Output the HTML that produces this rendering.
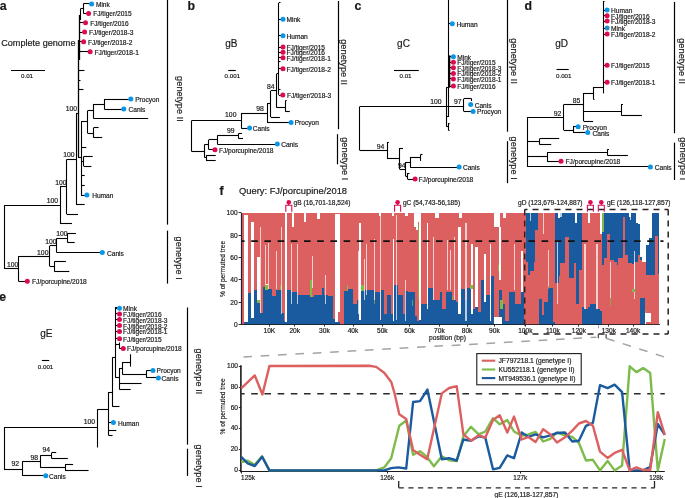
<!DOCTYPE html>
<html><head><meta charset="utf-8"><style>
html,body{margin:0;padding:0;background:#fff;}
body{width:685px;height:498px;overflow:hidden;}
svg{display:block;font-family:"Liberation Sans", sans-serif;-webkit-font-smoothing:antialiased;will-change:transform;}
</style></head><body>
<svg width="685" height="498" viewBox="0 0 685 498">
<rect width="685" height="498" fill="#fff"/>
<text x="-0.3" y="9.7" font-size="12.3" font-weight="bold" fill="#1a1718" stroke="#1a1718" stroke-width="0.18">a</text>
<text x="1.2" y="46.2" font-size="9.1" fill="#1a1718" stroke="#1a1718" stroke-width="0.18">Complete genome</text>
<line x1="11" y1="70.5" x2="45" y2="70.5" stroke="#000000" stroke-width="1.1"/>
<text x="21" y="78.3" font-size="6.2" fill="#1a1718" stroke="#1a1718" stroke-width="0.18">0.01</text>
<line x1="83.5" y1="3.9" x2="83.5" y2="13.3" stroke="#000000" stroke-width="1.1"/>
<line x1="83.3" y1="3.5" x2="89.6" y2="3.5" stroke="#000000" stroke-width="1.1"/>
<circle cx="91.6" cy="3.9" r="2.5" fill="#0a96e6"/>
<text x="95.9" y="6.88" font-size="6.6" fill="#1a1718" stroke="#1a1718" stroke-width="0.18">Mink</text>
<line x1="83.3" y1="13.5" x2="86.6" y2="13.5" stroke="#000000" stroke-width="1.1"/>
<circle cx="88.6" cy="13.5" r="2.5" fill="#dc0a55"/>
<text x="93.2" y="16.48" font-size="6.6" fill="#1a1718" stroke="#1a1718" stroke-width="0.18">FJ/tiger/2015</text>
<line x1="80.5" y1="8.5" x2="83.3" y2="8.5" stroke="#000000" stroke-width="1.1"/>
<line x1="80.5" y1="8.7" x2="80.5" y2="20" stroke="#000000" stroke-width="1.1"/>
<line x1="79.5" y1="15" x2="79.5" y2="60" stroke="#000000" stroke-width="1.3"/>
<line x1="79.5" y1="22.5" x2="83.5" y2="22.5" stroke="#000000" stroke-width="1.1"/>
<circle cx="85.5" cy="22.8" r="2.5" fill="#dc0a55"/>
<text x="90.2" y="25.78" font-size="6.6" fill="#1a1718" stroke="#1a1718" stroke-width="0.18">FJ/tiger/2016</text>
<line x1="79.5" y1="32.5" x2="82.6" y2="32.5" stroke="#000000" stroke-width="1.1"/>
<circle cx="84.6" cy="32" r="2.5" fill="#dc0a55"/>
<text x="89.0" y="34.98" font-size="6.6" fill="#1a1718" stroke="#1a1718" stroke-width="0.18">FJ/tiger/2018-3</text>
<line x1="79.5" y1="41.5" x2="81.6" y2="41.5" stroke="#000000" stroke-width="1.1"/>
<circle cx="83.6" cy="41.7" r="2.5" fill="#dc0a55"/>
<text x="88.0" y="44.68" font-size="6.6" fill="#1a1718" stroke="#1a1718" stroke-width="0.18">FJ/tiger/2018-2</text>
<line x1="78.5" y1="51.5" x2="88.1" y2="51.5" stroke="#000000" stroke-width="1.1"/>
<circle cx="90.1" cy="51.8" r="2.5" fill="#dc0a55"/>
<text x="94.5" y="54.78" font-size="6.6" fill="#1a1718" stroke="#1a1718" stroke-width="0.18">FJ/tiger/2018-1</text>
<line x1="78.5" y1="40" x2="78.5" y2="157.2" stroke="#000000" stroke-width="1.3"/>
<line x1="78" y1="70.5" x2="84.5" y2="70.5" stroke="#000000" stroke-width="1.1"/>
<line x1="78" y1="80.5" x2="80.5" y2="80.5" stroke="#000000" stroke-width="1.1"/>
<line x1="78" y1="89.5" x2="83.5" y2="89.5" stroke="#000000" stroke-width="1.1"/>
<line x1="76" y1="113.5" x2="78.2" y2="113.5" stroke="#000000" stroke-width="1.1"/>
<line x1="76.5" y1="113.5" x2="76.5" y2="204.3" stroke="#000000" stroke-width="1.1"/>
<text x="65.7" y="111" font-size="6.8" fill="#1a1718" stroke="#1a1718" stroke-width="0.18">100</text>
<line x1="78" y1="157.5" x2="81" y2="157.5" stroke="#000000" stroke-width="1.1"/>
<line x1="81.5" y1="121.7" x2="81.5" y2="195.1" stroke="#000000" stroke-width="1.1"/>
<line x1="81" y1="121.5" x2="87.6" y2="121.5" stroke="#000000" stroke-width="1.1"/>
<line x1="87.5" y1="110.7" x2="87.5" y2="133.2" stroke="#000000" stroke-width="1.1"/>
<line x1="87.6" y1="110.5" x2="93.2" y2="110.5" stroke="#000000" stroke-width="1.1"/>
<line x1="93.5" y1="104" x2="93.5" y2="118" stroke="#000000" stroke-width="1.1"/>
<line x1="93.2" y1="104.5" x2="104.3" y2="104.5" stroke="#000000" stroke-width="1.1"/>
<line x1="104.5" y1="99" x2="104.5" y2="109" stroke="#000000" stroke-width="1.1"/>
<line x1="104.3" y1="99.5" x2="128.8" y2="99.5" stroke="#000000" stroke-width="1.1"/>
<circle cx="130.8" cy="99" r="2.5" fill="#0a96e6"/>
<text x="135.2" y="101.98" font-size="6.6" fill="#1a1718" stroke="#1a1718" stroke-width="0.18">Procyon</text>
<line x1="104.3" y1="109.5" x2="121.8" y2="109.5" stroke="#000000" stroke-width="1.1"/>
<circle cx="123.8" cy="109" r="2.5" fill="#0a96e6"/>
<text x="128.5" y="111.98" font-size="6.6" fill="#1a1718" stroke="#1a1718" stroke-width="0.18">Canis</text>
<line x1="93.2" y1="118.5" x2="148.2" y2="118.5" stroke="#000000" stroke-width="1.1"/>
<line x1="87.6" y1="133.5" x2="93.6" y2="133.5" stroke="#000000" stroke-width="1.1"/>
<line x1="93.5" y1="127.8" x2="93.5" y2="137.8" stroke="#000000" stroke-width="1.1"/>
<line x1="93.6" y1="127.5" x2="98.6" y2="127.5" stroke="#000000" stroke-width="1.1"/>
<line x1="93.6" y1="137.5" x2="102.2" y2="137.5" stroke="#000000" stroke-width="1.1"/>
<line x1="81" y1="147.5" x2="86.3" y2="147.5" stroke="#000000" stroke-width="1.1"/>
<line x1="81" y1="161.5" x2="83.7" y2="161.5" stroke="#000000" stroke-width="1.1"/>
<line x1="83.5" y1="156.5" x2="83.5" y2="166.2" stroke="#000000" stroke-width="1.1"/>
<line x1="83.7" y1="156.5" x2="92.7" y2="156.5" stroke="#000000" stroke-width="1.1"/>
<line x1="83.7" y1="166.5" x2="91.4" y2="166.5" stroke="#000000" stroke-width="1.1"/>
<line x1="81" y1="175.5" x2="84.7" y2="175.5" stroke="#000000" stroke-width="1.1"/>
<line x1="81" y1="185.5" x2="84.7" y2="185.5" stroke="#000000" stroke-width="1.1"/>
<line x1="81" y1="195.5" x2="84.9" y2="195.5" stroke="#000000" stroke-width="1.1"/>
<circle cx="86.9" cy="195.1" r="2.5" fill="#0a96e6"/>
<text x="92.2" y="198.08" font-size="6.6" fill="#1a1718" stroke="#1a1718" stroke-width="0.18">Human</text>
<line x1="66.8" y1="159.5" x2="76" y2="159.5" stroke="#000000" stroke-width="1.1"/>
<line x1="66.5" y1="159.3" x2="66.5" y2="214.2" stroke="#000000" stroke-width="1.1"/>
<text x="63.3" y="156.9" font-size="6.8" fill="#1a1718" stroke="#1a1718" stroke-width="0.18">100</text>
<line x1="76" y1="204.5" x2="84.7" y2="204.5" stroke="#000000" stroke-width="1.1"/>
<line x1="66.8" y1="214.5" x2="78" y2="214.5" stroke="#000000" stroke-width="1.1"/>
<line x1="60" y1="186.5" x2="66.8" y2="186.5" stroke="#000000" stroke-width="1.1"/>
<line x1="60.5" y1="186.6" x2="60.5" y2="223.7" stroke="#000000" stroke-width="1.1"/>
<text x="55.3" y="185" font-size="6.8" fill="#1a1718" stroke="#1a1718" stroke-width="0.18">100</text>
<line x1="60" y1="223.5" x2="72" y2="223.5" stroke="#000000" stroke-width="1.1"/>
<line x1="4.4" y1="205.5" x2="60" y2="205.5" stroke="#000000" stroke-width="1.1"/>
<text x="46.7" y="203" font-size="6.8" fill="#1a1718" stroke="#1a1718" stroke-width="0.18">100</text>
<line x1="4.5" y1="205.2" x2="4.5" y2="268.9" stroke="#000000" stroke-width="1.1"/>
<line x1="4.4" y1="268.5" x2="18.5" y2="268.5" stroke="#000000" stroke-width="1.1"/>
<text x="7" y="266.7" font-size="6.8" fill="#1a1718" stroke="#1a1718" stroke-width="0.18">100</text>
<line x1="18.5" y1="256.2" x2="18.5" y2="281.3" stroke="#000000" stroke-width="1.1"/>
<line x1="18.5" y1="281.5" x2="25.3" y2="281.5" stroke="#000000" stroke-width="1.1"/>
<circle cx="27.3" cy="281.3" r="2.5" fill="#dc0a55"/>
<text x="32.1" y="284.28" font-size="6.6" fill="#1a1718" stroke="#1a1718" stroke-width="0.18">FJ/porcupine/2018</text>
<line x1="18.5" y1="256.5" x2="49.8" y2="256.5" stroke="#000000" stroke-width="1.1"/>
<text x="37.1" y="254.6" font-size="6.8" fill="#1a1718" stroke="#1a1718" stroke-width="0.18">100</text>
<line x1="49.5" y1="245.8" x2="49.5" y2="266.3" stroke="#000000" stroke-width="1.1"/>
<line x1="49.8" y1="245.5" x2="56.8" y2="245.5" stroke="#000000" stroke-width="1.1"/>
<text x="45.2" y="244.2" font-size="6.8" fill="#1a1718" stroke="#1a1718" stroke-width="0.18">100</text>
<line x1="56.5" y1="238.2" x2="56.5" y2="252.6" stroke="#000000" stroke-width="1.1"/>
<line x1="56.8" y1="252.5" x2="100.3" y2="252.5" stroke="#000000" stroke-width="1.1"/>
<circle cx="102.3" cy="252.6" r="2.5" fill="#0a96e6"/>
<text x="107" y="255.58" font-size="6.6" fill="#1a1718" stroke="#1a1718" stroke-width="0.18">Canis</text>
<line x1="56.8" y1="238.5" x2="67.9" y2="238.5" stroke="#000000" stroke-width="1.1"/>
<text x="56.2" y="236" font-size="6.8" fill="#1a1718" stroke="#1a1718" stroke-width="0.18">100</text>
<line x1="67.5" y1="233.1" x2="67.5" y2="242.8" stroke="#000000" stroke-width="1.1"/>
<line x1="67.9" y1="233.5" x2="75.9" y2="233.5" stroke="#000000" stroke-width="1.1"/>
<line x1="67.9" y1="242.5" x2="74.7" y2="242.5" stroke="#000000" stroke-width="1.1"/>
<line x1="49.8" y1="266.5" x2="54.2" y2="266.5" stroke="#000000" stroke-width="1.1"/>
<line x1="54.5" y1="261.8" x2="54.5" y2="271.3" stroke="#000000" stroke-width="1.1"/>
<line x1="54.2" y1="261.5" x2="65.9" y2="261.5" stroke="#000000" stroke-width="1.1"/>
<line x1="54.2" y1="271.5" x2="69.3" y2="271.5" stroke="#000000" stroke-width="1.1"/>
<line x1="167.5" y1="0" x2="167.5" y2="224.6" stroke="#000000" stroke-width="1.2"/>
<line x1="167.5" y1="230.6" x2="167.5" y2="283.6" stroke="#000000" stroke-width="1.2"/>
<text transform="translate(176.6,76.1) rotate(90)" font-size="9.25" fill="#1a1718" stroke="#1a1718" stroke-width="0.18">genetype II</text>
<text transform="translate(175.8,236.6) rotate(90)" font-size="9.25" fill="#1a1718" stroke="#1a1718" stroke-width="0.18">genetype I</text>
<text x="187.6" y="9.7" font-size="12.3" font-weight="bold" fill="#1a1718" stroke="#1a1718" stroke-width="0.18">b</text>
<text x="225.2" y="46.8" font-size="10" fill="#1a1718" stroke="#1a1718" stroke-width="0.18">gB</text>
<line x1="228.2" y1="70.5" x2="235.8" y2="70.5" stroke="#000000" stroke-width="1.1"/>
<text x="224.6" y="78.3" font-size="6.2" fill="#1a1718" stroke="#1a1718" stroke-width="0.18">0.001</text>
<line x1="278.5" y1="2.9" x2="278.5" y2="94.8" stroke="#000000" stroke-width="1.1"/>
<line x1="278.8" y1="2.5" x2="280.5" y2="2.5" stroke="#000000" stroke-width="1.1"/>
<line x1="278.8" y1="19.5" x2="281" y2="19.5" stroke="#000000" stroke-width="1.1"/>
<circle cx="283" cy="19.3" r="2.5" fill="#0a96e6"/>
<text x="286.5" y="22.28" font-size="6.6" fill="#1a1718" stroke="#1a1718" stroke-width="0.18">Mink</text>
<line x1="278.8" y1="35.5" x2="281" y2="35.5" stroke="#000000" stroke-width="1.1"/>
<circle cx="283" cy="35.7" r="2.5" fill="#0a96e6"/>
<text x="286.5" y="38.68" font-size="6.6" fill="#1a1718" stroke="#1a1718" stroke-width="0.18">Human</text>
<line x1="278.8" y1="47.5" x2="281" y2="47.5" stroke="#000000" stroke-width="1.1"/>
<circle cx="283" cy="47.1" r="2.5" fill="#dc0a55"/>
<text x="286.5" y="50.08" font-size="6.6" fill="#1a1718" stroke="#1a1718" stroke-width="0.18">FJ/tiger/2015</text>
<line x1="278.8" y1="52.5" x2="281" y2="52.5" stroke="#000000" stroke-width="1.1"/>
<circle cx="283" cy="52.2" r="2.5" fill="#dc0a55"/>
<text x="286.5" y="55.18" font-size="6.6" fill="#1a1718" stroke="#1a1718" stroke-width="0.18">FJ/tiger/2016</text>
<line x1="278.8" y1="57.5" x2="281" y2="57.5" stroke="#000000" stroke-width="1.1"/>
<circle cx="283" cy="57.8" r="2.5" fill="#dc0a55"/>
<text x="286.5" y="60.78" font-size="6.6" fill="#1a1718" stroke="#1a1718" stroke-width="0.18">FJ/tiger/2018-1</text>
<line x1="278.8" y1="68.5" x2="281" y2="68.5" stroke="#000000" stroke-width="1.1"/>
<circle cx="283" cy="68.8" r="2.5" fill="#dc0a55"/>
<text x="286.5" y="71.78" font-size="6.6" fill="#1a1718" stroke="#1a1718" stroke-width="0.18">FJ/tiger/2018-2</text>
<line x1="278.8" y1="61.5" x2="280.5" y2="61.5" stroke="#000000" stroke-width="1.1"/>
<line x1="276.6" y1="73.5" x2="278.8" y2="73.5" stroke="#000000" stroke-width="1.1"/>
<line x1="278.8" y1="89.5" x2="280.5" y2="89.5" stroke="#000000" stroke-width="1.1"/>
<line x1="278.8" y1="95.5" x2="280.8" y2="95.5" stroke="#000000" stroke-width="1.1"/>
<circle cx="282.8" cy="95.1" r="2.5" fill="#dc0a55"/>
<text x="286.9" y="98.08" font-size="6.6" fill="#1a1718" stroke="#1a1718" stroke-width="0.18">FJ/tiger/2018-3</text>
<line x1="276.5" y1="73.9" x2="276.5" y2="107.7" stroke="#000000" stroke-width="1.1"/>
<line x1="270.8" y1="90.5" x2="276.6" y2="90.5" stroke="#000000" stroke-width="1.1"/>
<line x1="270.5" y1="90.9" x2="270.5" y2="117" stroke="#000000" stroke-width="1.1"/>
<text x="267" y="88.7" font-size="6.8" fill="#1a1718" stroke="#1a1718" stroke-width="0.18">84</text>
<line x1="276.6" y1="107.5" x2="285.4" y2="107.5" stroke="#000000" stroke-width="1.1"/>
<line x1="285.5" y1="100.7" x2="285.5" y2="111.6" stroke="#000000" stroke-width="1.1"/>
<line x1="285.4" y1="100.5" x2="286.8" y2="100.5" stroke="#000000" stroke-width="1.1"/>
<line x1="285.4" y1="111.5" x2="289.8" y2="111.5" stroke="#000000" stroke-width="1.1"/>
<line x1="270.8" y1="117.5" x2="279.9" y2="117.5" stroke="#000000" stroke-width="1.1"/>
<line x1="267" y1="103.5" x2="270.8" y2="103.5" stroke="#000000" stroke-width="1.1"/>
<line x1="267.5" y1="103.9" x2="267.5" y2="122.3" stroke="#000000" stroke-width="1.1"/>
<text x="256.2" y="110.6" font-size="6.8" fill="#1a1718" stroke="#1a1718" stroke-width="0.18">98</text>
<line x1="267" y1="122.5" x2="289.1" y2="122.5" stroke="#000000" stroke-width="1.1"/>
<circle cx="291.1" cy="122.5" r="2.5" fill="#0a96e6"/>
<text x="294.7" y="125.48" font-size="6.6" fill="#1a1718" stroke="#1a1718" stroke-width="0.18">Procyon</text>
<line x1="241.2" y1="113.5" x2="267" y2="113.5" stroke="#000000" stroke-width="1.1"/>
<line x1="241.5" y1="113.1" x2="241.5" y2="128" stroke="#000000" stroke-width="1.1"/>
<line x1="241.2" y1="128.5" x2="247.6" y2="128.5" stroke="#000000" stroke-width="1.1"/>
<circle cx="249.6" cy="128.1" r="2.5" fill="#0a96e6"/>
<text x="252.8" y="131.08" font-size="6.6" fill="#1a1718" stroke="#1a1718" stroke-width="0.18">Canis</text>
<text x="225.1" y="116.7" font-size="6.8" fill="#1a1718" stroke="#1a1718" stroke-width="0.18">100</text>
<line x1="191.6" y1="120.5" x2="241.2" y2="120.5" stroke="#000000" stroke-width="1.1"/>
<line x1="191.5" y1="120.6" x2="191.5" y2="151.5" stroke="#000000" stroke-width="1.1"/>
<text x="227" y="132.8" font-size="6.8" fill="#1a1718" stroke="#1a1718" stroke-width="0.18">99</text>
<line x1="217.3" y1="135.5" x2="238.5" y2="135.5" stroke="#000000" stroke-width="1.1"/>
<line x1="238.5" y1="133.3" x2="238.5" y2="138.6" stroke="#000000" stroke-width="1.1"/>
<line x1="238.5" y1="133.5" x2="241.9" y2="133.5" stroke="#000000" stroke-width="1.1"/>
<line x1="238.5" y1="138.5" x2="243" y2="138.5" stroke="#000000" stroke-width="1.1"/>
<line x1="217.5" y1="135.4" x2="217.5" y2="144.1" stroke="#000000" stroke-width="1.1"/>
<line x1="217.3" y1="144.5" x2="275.3" y2="144.5" stroke="#000000" stroke-width="1.1"/>
<circle cx="277.3" cy="144.1" r="2.5" fill="#0a96e6"/>
<text x="281.2" y="147.08" font-size="6.6" fill="#1a1718" stroke="#1a1718" stroke-width="0.18">Canis</text>
<line x1="208.9" y1="139.5" x2="217.3" y2="139.5" stroke="#000000" stroke-width="1.1"/>
<line x1="208.5" y1="139.7" x2="208.5" y2="149.6" stroke="#000000" stroke-width="1.1"/>
<line x1="208.9" y1="149.5" x2="213" y2="149.5" stroke="#000000" stroke-width="1.1"/>
<circle cx="215" cy="149.7" r="2.5" fill="#dc0a55"/>
<text x="218.9" y="152.68" font-size="6.6" fill="#1a1718" stroke="#1a1718" stroke-width="0.18">FJ/porcupine/2018</text>
<line x1="204.4" y1="144.5" x2="208.9" y2="144.5" stroke="#000000" stroke-width="1.1"/>
<line x1="204.5" y1="144.6" x2="204.5" y2="157.4" stroke="#000000" stroke-width="1.1"/>
<line x1="191.6" y1="151.5" x2="204.4" y2="151.5" stroke="#000000" stroke-width="1.1"/>
<line x1="204.4" y1="157.5" x2="206" y2="157.5" stroke="#000000" stroke-width="1.1"/>
<line x1="206.5" y1="155" x2="206.5" y2="160.2" stroke="#000000" stroke-width="1.1"/>
<line x1="206" y1="155.5" x2="215.7" y2="155.5" stroke="#000000" stroke-width="1.1"/>
<line x1="206" y1="160.5" x2="215.7" y2="160.5" stroke="#000000" stroke-width="1.1"/>
<line x1="338.5" y1="1" x2="338.5" y2="129.2" stroke="#000000" stroke-width="1.2"/>
<line x1="337.5" y1="134.2" x2="337.5" y2="164.3" stroke="#000000" stroke-width="1.2"/>
<text transform="translate(341.4,39.2) rotate(90)" font-size="9.25" fill="#1a1718" stroke="#1a1718" stroke-width="0.18">genetype II</text>
<text transform="translate(341.6,137.2) rotate(90)" font-size="9.25" fill="#1a1718" stroke="#1a1718" stroke-width="0.18">genetype I</text>
<text x="354.6" y="9.8" font-size="12.3" font-weight="bold" fill="#1a1718" stroke="#1a1718" stroke-width="0.18">c</text>
<text x="397.1" y="46.8" font-size="10" fill="#1a1718" stroke="#1a1718" stroke-width="0.18">gC</text>
<line x1="394" y1="70.5" x2="418.8" y2="70.5" stroke="#000000" stroke-width="1.1"/>
<text x="399.5" y="78.3" font-size="6.2" fill="#1a1718" stroke="#1a1718" stroke-width="0.18">0.01</text>
<line x1="448.5" y1="0" x2="448.5" y2="87.4" stroke="#000000" stroke-width="1.1"/>
<line x1="448.3" y1="23.5" x2="450.3" y2="23.5" stroke="#000000" stroke-width="1.1"/>
<circle cx="452.3" cy="23.7" r="2.5" fill="#0a96e6"/>
<text x="456.4" y="26.68" font-size="6.6" fill="#1a1718" stroke="#1a1718" stroke-width="0.18">Human</text>
<line x1="449.5" y1="55.4" x2="449.5" y2="87.4" stroke="#000000" stroke-width="1.6"/>
<line x1="449.4" y1="56.5" x2="451.4" y2="56.5" stroke="#000000" stroke-width="1.1"/>
<circle cx="453.4" cy="56.8" r="2.5" fill="#0a96e6"/>
<text x="457.2" y="59.78" font-size="6.6" fill="#1a1718" stroke="#1a1718" stroke-width="0.18">Mink</text>
<line x1="449.4" y1="62.5" x2="451.4" y2="62.5" stroke="#000000" stroke-width="1.1"/>
<circle cx="453.4" cy="62.2" r="2.5" fill="#dc0a55"/>
<text x="457.2" y="65.18" font-size="6.6" fill="#1a1718" stroke="#1a1718" stroke-width="0.18">FJ/tiger/2015</text>
<line x1="449.4" y1="67.5" x2="451.4" y2="67.5" stroke="#000000" stroke-width="1.1"/>
<circle cx="453.4" cy="67.7" r="2.5" fill="#dc0a55"/>
<text x="457.2" y="70.68" font-size="6.6" fill="#1a1718" stroke="#1a1718" stroke-width="0.18">FJ/tiger/2018-3</text>
<line x1="449.4" y1="73.5" x2="451.4" y2="73.5" stroke="#000000" stroke-width="1.1"/>
<circle cx="453.4" cy="73.5" r="2.5" fill="#dc0a55"/>
<text x="457.2" y="76.48" font-size="6.6" fill="#1a1718" stroke="#1a1718" stroke-width="0.18">FJ/tiger/2018-2</text>
<line x1="449.4" y1="78.5" x2="451.4" y2="78.5" stroke="#000000" stroke-width="1.1"/>
<circle cx="453.4" cy="78.9" r="2.5" fill="#dc0a55"/>
<text x="457.2" y="81.88" font-size="6.6" fill="#1a1718" stroke="#1a1718" stroke-width="0.18">FJ/tiger/2018-1</text>
<line x1="449.4" y1="86.5" x2="451.4" y2="86.5" stroke="#000000" stroke-width="1.1"/>
<circle cx="453.4" cy="86.1" r="2.5" fill="#dc0a55"/>
<text x="457.2" y="89.08" font-size="6.6" fill="#1a1718" stroke="#1a1718" stroke-width="0.18">FJ/tiger/2016</text>
<line x1="446.5" y1="87.4" x2="446.5" y2="126.5" stroke="#000000" stroke-width="1.1"/>
<line x1="448.5" y1="87.4" x2="448.5" y2="117" stroke="#000000" stroke-width="1.1"/>
<line x1="446.3" y1="87.5" x2="449.4" y2="87.5" stroke="#000000" stroke-width="1.1"/>
<line x1="359.6" y1="106.5" x2="463.9" y2="106.5" stroke="#000000" stroke-width="1.1"/>
<text x="430.3" y="104" font-size="6.8" fill="#1a1718" stroke="#1a1718" stroke-width="0.18">100</text>
<line x1="463.5" y1="98.8" x2="463.5" y2="111.4" stroke="#000000" stroke-width="1.1"/>
<line x1="463.9" y1="98.5" x2="471.6" y2="98.5" stroke="#000000" stroke-width="1.1"/>
<line x1="471.5" y1="98.8" x2="471.5" y2="101" stroke="#000000" stroke-width="1.1"/>
<text x="454.1" y="103.8" font-size="6.8" fill="#1a1718" stroke="#1a1718" stroke-width="0.18">97</text>
<circle cx="470.7" cy="104.6" r="2.5" fill="#0a96e6"/>
<text x="474.7" y="107.58" font-size="6.6" fill="#1a1718" stroke="#1a1718" stroke-width="0.18">Canis</text>
<line x1="463.9" y1="111.5" x2="471.1" y2="111.5" stroke="#000000" stroke-width="1.1"/>
<circle cx="473.1" cy="111.4" r="2.5" fill="#0a96e6"/>
<text x="477.1" y="114.38" font-size="6.6" fill="#1a1718" stroke="#1a1718" stroke-width="0.18">Procyon</text>
<line x1="446.3" y1="116.5" x2="448.4" y2="116.5" stroke="#000000" stroke-width="1.1"/>
<line x1="446.3" y1="126.5" x2="448.4" y2="126.5" stroke="#000000" stroke-width="1.1"/>
<line x1="448.5" y1="123" x2="448.5" y2="130.2" stroke="#000000" stroke-width="1.1"/>
<line x1="448.4" y1="123.5" x2="449.6" y2="123.5" stroke="#000000" stroke-width="1.1"/>
<line x1="448.4" y1="130.5" x2="449.6" y2="130.5" stroke="#000000" stroke-width="1.1"/>
<line x1="359.5" y1="106.7" x2="359.5" y2="150.2" stroke="#000000" stroke-width="1.1"/>
<line x1="359.6" y1="150.5" x2="387" y2="150.5" stroke="#000000" stroke-width="1.1"/>
<line x1="387.5" y1="142" x2="387.5" y2="158.9" stroke="#000000" stroke-width="1.1"/>
<line x1="387" y1="142.5" x2="388.8" y2="142.5" stroke="#000000" stroke-width="1.1"/>
<text x="376.7" y="148.6" font-size="6.8" fill="#1a1718" stroke="#1a1718" stroke-width="0.18">94</text>
<line x1="387" y1="158.5" x2="399.6" y2="158.5" stroke="#000000" stroke-width="1.1"/>
<line x1="399.5" y1="148" x2="399.5" y2="169.1" stroke="#000000" stroke-width="1.1"/>
<line x1="399.6" y1="148.5" x2="403" y2="148.5" stroke="#000000" stroke-width="1.1"/>
<line x1="399.6" y1="169.5" x2="405.6" y2="169.5" stroke="#000000" stroke-width="1.1"/>
<line x1="405.5" y1="162.1" x2="405.5" y2="176.1" stroke="#000000" stroke-width="1.1"/>
<text x="397.9" y="167.6" font-size="6.8" fill="#1a1718" stroke="#1a1718" stroke-width="0.18">94</text>
<line x1="405.6" y1="162.5" x2="410.1" y2="162.5" stroke="#000000" stroke-width="1.1"/>
<line x1="410.5" y1="157.3" x2="410.5" y2="167.1" stroke="#000000" stroke-width="1.1"/>
<line x1="410.1" y1="157.5" x2="420.9" y2="157.5" stroke="#000000" stroke-width="1.1"/>
<line x1="420.5" y1="154.3" x2="420.5" y2="160.9" stroke="#000000" stroke-width="1.1"/>
<line x1="420.9" y1="154.5" x2="422.5" y2="154.5" stroke="#000000" stroke-width="1.1"/>
<line x1="410.1" y1="167.5" x2="457.1" y2="167.5" stroke="#000000" stroke-width="1.1"/>
<circle cx="459.1" cy="167.0" r="2.5" fill="#0a96e6"/>
<text x="462.9" y="169.98" font-size="6.6" fill="#1a1718" stroke="#1a1718" stroke-width="0.18">Canis</text>
<line x1="405.6" y1="176.5" x2="407.6" y2="176.5" stroke="#000000" stroke-width="1.1"/>
<line x1="407.5" y1="173.1" x2="407.5" y2="179.1" stroke="#000000" stroke-width="1.1"/>
<line x1="407.6" y1="173.5" x2="409.5" y2="173.5" stroke="#000000" stroke-width="1.1"/>
<line x1="407.6" y1="179.5" x2="413.1" y2="179.5" stroke="#000000" stroke-width="1.1"/>
<circle cx="415.1" cy="179.0" r="2.5" fill="#dc0a55"/>
<text x="418.6" y="181.98" font-size="6.6" fill="#1a1718" stroke="#1a1718" stroke-width="0.18">FJ/porcupine/2018</text>
<line x1="507.5" y1="0" x2="507.5" y2="131.7" stroke="#000000" stroke-width="1.2"/>
<line x1="507.5" y1="141.2" x2="507.5" y2="183.2" stroke="#000000" stroke-width="1.2"/>
<text transform="translate(511.3,38.2) rotate(90)" font-size="9.25" fill="#1a1718" stroke="#1a1718" stroke-width="0.18">genetype II</text>
<text transform="translate(511.3,136.6) rotate(90)" font-size="9.25" fill="#1a1718" stroke="#1a1718" stroke-width="0.18">genetype I</text>
<text x="524.6" y="9.8" font-size="12.3" font-weight="bold" fill="#1a1718" stroke="#1a1718" stroke-width="0.18">d</text>
<text x="555.3" y="46.8" font-size="10" fill="#1a1718" stroke="#1a1718" stroke-width="0.18">gD</text>
<line x1="556.5" y1="69.5" x2="568.7" y2="69.5" stroke="#000000" stroke-width="1.1"/>
<text x="556" y="78.3" font-size="6.2" fill="#1a1718" stroke="#1a1718" stroke-width="0.18">0.001</text>
<line x1="603.5" y1="1" x2="603.5" y2="93.4" stroke="#000000" stroke-width="1.1"/>
<line x1="603.1" y1="1.5" x2="604.5" y2="1.5" stroke="#000000" stroke-width="1.1"/>
<line x1="603.1" y1="10.5" x2="605.1" y2="10.5" stroke="#000000" stroke-width="1.1"/>
<circle cx="607.1" cy="10" r="2.5" fill="#0a96e6"/>
<text x="611.1" y="12.98" font-size="6.6" fill="#1a1718" stroke="#1a1718" stroke-width="0.18">Human</text>
<line x1="603.1" y1="15.5" x2="605.1" y2="15.5" stroke="#000000" stroke-width="1.1"/>
<circle cx="607.1" cy="15.7" r="2.5" fill="#dc0a55"/>
<text x="611.1" y="18.68" font-size="6.6" fill="#1a1718" stroke="#1a1718" stroke-width="0.18">FJ/tiger/2016</text>
<line x1="603.1" y1="21.5" x2="605.1" y2="21.5" stroke="#000000" stroke-width="1.1"/>
<circle cx="607.1" cy="21.1" r="2.5" fill="#dc0a55"/>
<text x="611.1" y="24.08" font-size="6.6" fill="#1a1718" stroke="#1a1718" stroke-width="0.18">FJ/tiger/2018-3</text>
<line x1="603.1" y1="28.5" x2="605.1" y2="28.5" stroke="#000000" stroke-width="1.1"/>
<circle cx="607.1" cy="28.1" r="2.5" fill="#2a8ac6"/>
<text x="611.1" y="31.08" font-size="6.6" fill="#1a1718" stroke="#1a1718" stroke-width="0.18">Mink</text>
<line x1="603.1" y1="34.5" x2="605.1" y2="34.5" stroke="#000000" stroke-width="1.1"/>
<circle cx="607.1" cy="34.1" r="2.5" fill="#dc0a55"/>
<text x="611.1" y="37.08" font-size="6.6" fill="#1a1718" stroke="#1a1718" stroke-width="0.18">FJ/tiger/2018-2</text>
<line x1="603.1" y1="65.5" x2="605.1" y2="65.5" stroke="#000000" stroke-width="1.1"/>
<circle cx="607.1" cy="65.3" r="2.5" fill="#dc0a55"/>
<text x="611.1" y="68.28" font-size="6.6" fill="#1a1718" stroke="#1a1718" stroke-width="0.18">FJ/tiger/2015</text>
<line x1="603.1" y1="82.5" x2="605.1" y2="82.5" stroke="#000000" stroke-width="1.1"/>
<circle cx="607.1" cy="82.3" r="2.5" fill="#dc0a55"/>
<text x="611.1" y="85.28" font-size="6.6" fill="#1a1718" stroke="#1a1718" stroke-width="0.18">FJ/tiger/2018-1</text>
<line x1="593.3" y1="87.5" x2="603.1" y2="87.5" stroke="#000000" stroke-width="1.1"/>
<line x1="593.5" y1="87" x2="593.5" y2="99.1" stroke="#000000" stroke-width="1.1"/>
<line x1="593.3" y1="99.5" x2="594.5" y2="99.5" stroke="#000000" stroke-width="1.1"/>
<line x1="583.7" y1="93.5" x2="593.3" y2="93.5" stroke="#000000" stroke-width="1.1"/>
<line x1="583.5" y1="93" x2="583.5" y2="121.1" stroke="#000000" stroke-width="1.1"/>
<text x="572.7" y="103.1" font-size="6.8" fill="#1a1718" stroke="#1a1718" stroke-width="0.18">85</text>
<line x1="583.7" y1="111.5" x2="621.8" y2="111.5" stroke="#000000" stroke-width="1.1"/>
<line x1="621.5" y1="104.1" x2="621.5" y2="115.7" stroke="#000000" stroke-width="1.1"/>
<line x1="621.8" y1="104.5" x2="623" y2="104.5" stroke="#000000" stroke-width="1.1"/>
<line x1="621.8" y1="115.5" x2="641.9" y2="115.5" stroke="#000000" stroke-width="1.1"/>
<line x1="583.7" y1="121.5" x2="593.1" y2="121.5" stroke="#000000" stroke-width="1.1"/>
<line x1="563.8" y1="104.5" x2="583.7" y2="104.5" stroke="#000000" stroke-width="1.1"/>
<line x1="563.5" y1="104.5" x2="563.5" y2="130.2" stroke="#000000" stroke-width="1.1"/>
<text x="553.8" y="116.1" font-size="6.8" fill="#1a1718" stroke="#1a1718" stroke-width="0.18">92</text>
<line x1="563.8" y1="130.5" x2="573" y2="130.5" stroke="#000000" stroke-width="1.1"/>
<line x1="573.5" y1="126.7" x2="573.5" y2="132.6" stroke="#000000" stroke-width="1.1"/>
<line x1="573" y1="126.5" x2="576.1" y2="126.5" stroke="#000000" stroke-width="1.1"/>
<circle cx="578.1" cy="126.7" r="2.5" fill="#0a96e6"/>
<text x="582.7" y="129.68" font-size="6.6" fill="#1a1718" stroke="#1a1718" stroke-width="0.18">Procyon</text>
<line x1="573" y1="132.5" x2="585.7" y2="132.5" stroke="#000000" stroke-width="1.1"/>
<circle cx="587.7" cy="132.6" r="2.5" fill="#0a96e6"/>
<text x="592.5" y="135.58" font-size="6.6" fill="#1a1718" stroke="#1a1718" stroke-width="0.18">Canis</text>
<line x1="527.7" y1="117.5" x2="563.8" y2="117.5" stroke="#000000" stroke-width="1.1"/>
<line x1="527.5" y1="117.1" x2="527.5" y2="167" stroke="#000000" stroke-width="1.1"/>
<line x1="527.7" y1="141.5" x2="539.7" y2="141.5" stroke="#000000" stroke-width="1.1"/>
<line x1="539.5" y1="138.6" x2="539.5" y2="144.7" stroke="#000000" stroke-width="1.1"/>
<line x1="539.7" y1="138.5" x2="559.2" y2="138.5" stroke="#000000" stroke-width="1.1"/>
<line x1="539.7" y1="144.5" x2="551.2" y2="144.5" stroke="#000000" stroke-width="1.1"/>
<line x1="527.7" y1="156.5" x2="547.1" y2="156.5" stroke="#000000" stroke-width="1.1"/>
<line x1="547.5" y1="152.5" x2="547.5" y2="161.3" stroke="#000000" stroke-width="1.1"/>
<line x1="547.1" y1="152.5" x2="607.8" y2="152.5" stroke="#000000" stroke-width="1.1"/>
<line x1="607.5" y1="149.2" x2="607.5" y2="155.7" stroke="#000000" stroke-width="1.1"/>
<line x1="607.8" y1="149.5" x2="609" y2="149.5" stroke="#000000" stroke-width="1.1"/>
<line x1="607.8" y1="155.5" x2="627.9" y2="155.5" stroke="#000000" stroke-width="1.1"/>
<line x1="547.1" y1="161.5" x2="559" y2="161.5" stroke="#000000" stroke-width="1.1"/>
<circle cx="561" cy="161.3" r="2.5" fill="#dc0a55"/>
<text x="565.6" y="164.28" font-size="6.6" fill="#1a1718" stroke="#1a1718" stroke-width="0.18">FJ/porcupine/2018</text>
<line x1="527.7" y1="166.5" x2="648.4" y2="166.5" stroke="#000000" stroke-width="1.1"/>
<circle cx="650.4" cy="166.9" r="2.5" fill="#0a96e6"/>
<text x="654.8" y="169.88" font-size="6.6" fill="#1a1718" stroke="#1a1718" stroke-width="0.18">Canis</text>
<line x1="674.5" y1="2" x2="674.5" y2="133.2" stroke="#000000" stroke-width="1.2"/>
<line x1="674.5" y1="142.6" x2="674.5" y2="180" stroke="#000000" stroke-width="1.2"/>
<text transform="translate(679.3,38.2) rotate(90)" font-size="9.25" fill="#1a1718" stroke="#1a1718" stroke-width="0.18">genetype II</text>
<text transform="translate(679.5,137.2) rotate(90)" font-size="9.25" fill="#1a1718" stroke="#1a1718" stroke-width="0.18">genetype I</text>
<text x="-0.8" y="301.0" font-size="12.3" font-weight="bold" fill="#1a1718" stroke="#1a1718" stroke-width="0.18">e</text>
<text x="40.2" y="336.8" font-size="10" fill="#1a1718" stroke="#1a1718" stroke-width="0.18">gE</text>
<line x1="41.8" y1="360.5" x2="49.2" y2="360.5" stroke="#000000" stroke-width="1.1"/>
<text x="37.8" y="368.7" font-size="6.2" fill="#1a1718" stroke="#1a1718" stroke-width="0.18">0.001</text>
<line x1="115.5" y1="307.2" x2="115.5" y2="377.2" stroke="#000000" stroke-width="1.1"/>
<line x1="115.2" y1="307.5" x2="117" y2="307.5" stroke="#000000" stroke-width="1.1"/>
<line x1="115.2" y1="308.5" x2="117.5" y2="308.5" stroke="#000000" stroke-width="1.1"/>
<circle cx="119.5" cy="308.2" r="2.5" fill="#0a96e6"/>
<text x="123.1" y="311.18" font-size="6.6" fill="#1a1718" stroke="#1a1718" stroke-width="0.18">Mink</text>
<line x1="115.2" y1="313.5" x2="117.5" y2="313.5" stroke="#000000" stroke-width="1.1"/>
<circle cx="119.5" cy="313.9" r="2.5" fill="#dc0a55"/>
<text x="123.1" y="316.88" font-size="6.6" fill="#1a1718" stroke="#1a1718" stroke-width="0.18">FJ/tiger/2016</text>
<line x1="115.2" y1="319.5" x2="117.5" y2="319.5" stroke="#000000" stroke-width="1.1"/>
<circle cx="119.5" cy="319.6" r="2.5" fill="#dc0a55"/>
<text x="123.1" y="322.58" font-size="6.6" fill="#1a1718" stroke="#1a1718" stroke-width="0.18">FJ/tiger/2018-3</text>
<line x1="115.2" y1="325.5" x2="117.5" y2="325.5" stroke="#000000" stroke-width="1.1"/>
<circle cx="119.5" cy="325.6" r="2.5" fill="#dc0a55"/>
<text x="123.1" y="328.58" font-size="6.6" fill="#1a1718" stroke="#1a1718" stroke-width="0.18">FJ/tiger/2018-2</text>
<line x1="115.2" y1="331.5" x2="117.5" y2="331.5" stroke="#000000" stroke-width="1.1"/>
<circle cx="119.5" cy="331.4" r="2.5" fill="#dc0a55"/>
<text x="123.1" y="334.38" font-size="6.6" fill="#1a1718" stroke="#1a1718" stroke-width="0.18">FJ/tiger/2018-1</text>
<line x1="115.2" y1="338.5" x2="117.5" y2="338.5" stroke="#000000" stroke-width="1.1"/>
<circle cx="119.5" cy="338.8" r="2.5" fill="#dc0a55"/>
<text x="123.1" y="341.78" font-size="6.6" fill="#1a1718" stroke="#1a1718" stroke-width="0.18">FJ/tiger/2015</text>
<line x1="115.2" y1="344.5" x2="119.2" y2="344.5" stroke="#000000" stroke-width="1.1"/>
<line x1="119.5" y1="342.5" x2="119.5" y2="348.4" stroke="#000000" stroke-width="1.1"/>
<line x1="119.2" y1="348.5" x2="121.3" y2="348.5" stroke="#000000" stroke-width="1.1"/>
<circle cx="123.3" cy="348.4" r="2.5" fill="#dc0a55"/>
<text x="127.1" y="351.38" font-size="6.6" fill="#1a1718" stroke="#1a1718" stroke-width="0.18">FJ/porcupine/2018</text>
<line x1="112.3" y1="357.5" x2="115.2" y2="357.5" stroke="#000000" stroke-width="1.1"/>
<line x1="112.5" y1="357.3" x2="112.5" y2="406.5" stroke="#000000" stroke-width="1.1"/>
<line x1="115.2" y1="377.5" x2="119.3" y2="377.5" stroke="#000000" stroke-width="1.1"/>
<line x1="119.5" y1="368.1" x2="119.5" y2="389.2" stroke="#000000" stroke-width="1.1"/>
<line x1="119.3" y1="368.5" x2="122.3" y2="368.5" stroke="#000000" stroke-width="1.1"/>
<line x1="122.5" y1="362.1" x2="122.5" y2="374.2" stroke="#000000" stroke-width="1.1"/>
<line x1="122.3" y1="362.5" x2="130.1" y2="362.5" stroke="#000000" stroke-width="1.1"/>
<line x1="130.5" y1="354.3" x2="130.5" y2="366.6" stroke="#000000" stroke-width="1.1"/>
<line x1="122.3" y1="374.5" x2="146.4" y2="374.5" stroke="#000000" stroke-width="1.1"/>
<line x1="146.5" y1="370.5" x2="146.5" y2="377.9" stroke="#000000" stroke-width="1.1"/>
<line x1="146.4" y1="370.5" x2="151" y2="370.5" stroke="#000000" stroke-width="1.1"/>
<circle cx="153" cy="370.5" r="2.5" fill="#0a96e6"/>
<text x="156.6" y="373.48" font-size="6.6" fill="#1a1718" stroke="#1a1718" stroke-width="0.18">Procyon</text>
<line x1="146.4" y1="377.5" x2="156.4" y2="377.5" stroke="#000000" stroke-width="1.1"/>
<circle cx="158.4" cy="377.9" r="2.5" fill="#0a96e6"/>
<text x="161.6" y="380.88" font-size="6.6" fill="#1a1718" stroke="#1a1718" stroke-width="0.18">Canis</text>
<line x1="119.3" y1="383.5" x2="141.6" y2="383.5" stroke="#000000" stroke-width="1.1"/>
<line x1="119.3" y1="389.5" x2="130.7" y2="389.5" stroke="#000000" stroke-width="1.1"/>
<line x1="112.3" y1="406.5" x2="119.5" y2="406.5" stroke="#000000" stroke-width="1.1"/>
<line x1="108.6" y1="392.5" x2="112.3" y2="392.5" stroke="#000000" stroke-width="1.1"/>
<line x1="108.5" y1="392" x2="108.5" y2="435.4" stroke="#000000" stroke-width="1.1"/>
<line x1="108.6" y1="435.5" x2="112.6" y2="435.5" stroke="#000000" stroke-width="1.1"/>
<line x1="108.6" y1="430.5" x2="116.3" y2="430.5" stroke="#000000" stroke-width="1.1"/>
<line x1="108.6" y1="422.5" x2="111" y2="422.5" stroke="#000000" stroke-width="1.1"/>
<circle cx="113.4" cy="422.6" r="2.5" fill="#0a96e6"/>
<text x="117.9" y="425.58" font-size="6.6" fill="#1a1718" stroke="#1a1718" stroke-width="0.18">Human</text>
<line x1="97.6" y1="409.5" x2="108.6" y2="409.5" stroke="#000000" stroke-width="1.1"/>
<line x1="97.5" y1="409.2" x2="97.5" y2="447.5" stroke="#000000" stroke-width="1.1"/>
<text x="83.7" y="424.2" font-size="6.8" fill="#1a1718" stroke="#1a1718" stroke-width="0.18">100</text>
<line x1="4" y1="427.5" x2="97.6" y2="427.5" stroke="#000000" stroke-width="1.1"/>
<line x1="4.5" y1="427" x2="4.5" y2="469.1" stroke="#000000" stroke-width="1.1"/>
<line x1="4" y1="469.5" x2="22.5" y2="469.5" stroke="#000000" stroke-width="1.1"/>
<line x1="22.5" y1="461.3" x2="22.5" y2="475.8" stroke="#000000" stroke-width="1.1"/>
<text x="11.6" y="465.8" font-size="6.8" fill="#1a1718" stroke="#1a1718" stroke-width="0.18">92</text>
<line x1="22.5" y1="461.5" x2="40.1" y2="461.5" stroke="#000000" stroke-width="1.1"/>
<line x1="40.5" y1="455.9" x2="40.5" y2="467.1" stroke="#000000" stroke-width="1.1"/>
<text x="30.5" y="459.7" font-size="6.8" fill="#1a1718" stroke="#1a1718" stroke-width="0.18">98</text>
<line x1="40.1" y1="455.5" x2="51.7" y2="455.5" stroke="#000000" stroke-width="1.1"/>
<line x1="51.5" y1="452.7" x2="51.5" y2="458.6" stroke="#000000" stroke-width="1.1"/>
<text x="42.6" y="452.4" font-size="6.8" fill="#1a1718" stroke="#1a1718" stroke-width="0.18">94</text>
<line x1="51.7" y1="452.5" x2="56.2" y2="452.5" stroke="#000000" stroke-width="1.1"/>
<line x1="51.7" y1="458.5" x2="67.8" y2="458.5" stroke="#000000" stroke-width="1.1"/>
<line x1="40.1" y1="467.5" x2="65" y2="467.5" stroke="#000000" stroke-width="1.1"/>
<line x1="65.5" y1="464.6" x2="65.5" y2="470.2" stroke="#000000" stroke-width="1.1"/>
<line x1="65" y1="464.5" x2="73.1" y2="464.5" stroke="#000000" stroke-width="1.1"/>
<line x1="65" y1="470.5" x2="88.6" y2="470.5" stroke="#000000" stroke-width="1.1"/>
<line x1="22.5" y1="475.5" x2="43.8" y2="475.5" stroke="#000000" stroke-width="1.1"/>
<circle cx="45.8" cy="475.7" r="2.5" fill="#0a96e6"/>
<text x="49" y="478.68" font-size="6.6" fill="#1a1718" stroke="#1a1718" stroke-width="0.18">Canis</text>
<line x1="187.5" y1="307.5" x2="187.5" y2="444.6" stroke="#000000" stroke-width="1.2"/>
<line x1="187.5" y1="448.7" x2="187.5" y2="475.9" stroke="#000000" stroke-width="1.2"/>
<text transform="translate(196.3,348.5) rotate(90)" font-size="9.25" fill="#1a1718" stroke="#1a1718" stroke-width="0.18">genetype II</text>
<text transform="translate(196.3,444.6) rotate(90)" font-size="9.25" fill="#1a1718" stroke="#1a1718" stroke-width="0.18">genetype I</text>
<rect x="242.00" y="212.90" width="2.00" height="111.60" fill="#dd6060" shape-rendering="crispEdges"/>
<rect x="244.00" y="212.90" width="4.00" height="109.10" fill="#dd6060" shape-rendering="crispEdges"/>
<rect x="244.00" y="322.00" width="4.00" height="2.50" fill="#1a5a9e" shape-rendering="crispEdges"/>
<rect x="248.00" y="212.90" width="3.00" height="79.80" fill="#dd6060" shape-rendering="crispEdges"/>
<rect x="248.00" y="292.70" width="3.00" height="31.80" fill="#1a5a9e" shape-rendering="crispEdges"/>
<rect x="251.00" y="212.90" width="3.00" height="105.10" fill="#dd6060" shape-rendering="crispEdges"/>
<rect x="251.00" y="318.00" width="3.00" height="6.50" fill="#1a5a9e" shape-rendering="crispEdges"/>
<rect x="254.00" y="212.90" width="3.00" height="76.80" fill="#dd6060" shape-rendering="crispEdges"/>
<rect x="254.00" y="289.70" width="3.00" height="34.80" fill="#1a5a9e" shape-rendering="crispEdges"/>
<rect x="257.00" y="212.90" width="3.00" height="89.10" fill="#dd6060" shape-rendering="crispEdges"/>
<rect x="257.00" y="302.00" width="3.00" height="22.50" fill="#1a5a9e" shape-rendering="crispEdges"/>
<rect x="260.00" y="212.90" width="3.00" height="100.30" fill="#dd6060" shape-rendering="crispEdges"/>
<rect x="260.00" y="313.20" width="3.00" height="11.30" fill="#1a5a9e" shape-rendering="crispEdges"/>
<rect x="263.00" y="212.90" width="3.00" height="73.80" fill="#dd6060" shape-rendering="crispEdges"/>
<rect x="263.00" y="286.70" width="3.00" height="37.80" fill="#1a5a9e" shape-rendering="crispEdges"/>
<rect x="266.00" y="212.90" width="6.00" height="76.20" fill="#dd6060" shape-rendering="crispEdges"/>
<rect x="266.00" y="289.10" width="6.00" height="35.40" fill="#1a5a9e" shape-rendering="crispEdges"/>
<rect x="272.00" y="212.90" width="4.00" height="83.40" fill="#dd6060" shape-rendering="crispEdges"/>
<rect x="272.00" y="296.30" width="4.00" height="28.20" fill="#1a5a9e" shape-rendering="crispEdges"/>
<rect x="276.00" y="212.90" width="4.00" height="76.60" fill="#dd6060" shape-rendering="crispEdges"/>
<rect x="276.00" y="289.50" width="4.00" height="35.00" fill="#1a5a9e" shape-rendering="crispEdges"/>
<rect x="280.00" y="212.90" width="2.00" height="77.10" fill="#dd6060" shape-rendering="crispEdges"/>
<rect x="280.00" y="290.00" width="2.00" height="34.50" fill="#1a5a9e" shape-rendering="crispEdges"/>
<rect x="282.00" y="212.90" width="2.00" height="99.90" fill="#dd6060" shape-rendering="crispEdges"/>
<rect x="282.00" y="312.80" width="2.00" height="11.70" fill="#1a5a9e" shape-rendering="crispEdges"/>
<rect x="284.00" y="212.90" width="1.00" height="108.10" fill="#dd6060" shape-rendering="crispEdges"/>
<rect x="284.00" y="321.00" width="1.00" height="3.50" fill="#1a5a9e" shape-rendering="crispEdges"/>
<rect x="285.00" y="212.90" width="2.00" height="109.10" fill="#dd6060" shape-rendering="crispEdges"/>
<rect x="285.00" y="322.00" width="2.00" height="2.50" fill="#1a5a9e" shape-rendering="crispEdges"/>
<rect x="287.00" y="212.90" width="4.00" height="77.10" fill="#dd6060" shape-rendering="crispEdges"/>
<rect x="287.00" y="290.00" width="4.00" height="34.50" fill="#1a5a9e" shape-rendering="crispEdges"/>
<rect x="291.00" y="212.90" width="7.00" height="79.40" fill="#dd6060" shape-rendering="crispEdges"/>
<rect x="291.00" y="292.30" width="7.00" height="32.20" fill="#1a5a9e" shape-rendering="crispEdges"/>
<rect x="298.00" y="212.90" width="12.00" height="81.80" fill="#dd6060" shape-rendering="crispEdges"/>
<rect x="298.00" y="294.70" width="12.00" height="29.80" fill="#1a5a9e" shape-rendering="crispEdges"/>
<rect x="310.00" y="212.90" width="4.00" height="84.10" fill="#dd6060" shape-rendering="crispEdges"/>
<rect x="310.00" y="297.00" width="4.00" height="27.50" fill="#1a5a9e" shape-rendering="crispEdges"/>
<rect x="314.00" y="212.90" width="8.00" height="81.80" fill="#dd6060" shape-rendering="crispEdges"/>
<rect x="314.00" y="294.70" width="8.00" height="29.80" fill="#1a5a9e" shape-rendering="crispEdges"/>
<rect x="322.00" y="212.90" width="2.00" height="74.60" fill="#dd6060" shape-rendering="crispEdges"/>
<rect x="322.00" y="287.50" width="2.00" height="37.00" fill="#1a5a9e" shape-rendering="crispEdges"/>
<rect x="324.00" y="212.90" width="4.00" height="81.80" fill="#dd6060" shape-rendering="crispEdges"/>
<rect x="324.00" y="294.70" width="4.00" height="29.80" fill="#1a5a9e" shape-rendering="crispEdges"/>
<rect x="328.00" y="212.90" width="5.00" height="83.10" fill="#dd6060" shape-rendering="crispEdges"/>
<rect x="328.00" y="296.00" width="5.00" height="28.50" fill="#1a5a9e" shape-rendering="crispEdges"/>
<rect x="333.00" y="212.90" width="2.00" height="106.10" fill="#dd6060" shape-rendering="crispEdges"/>
<rect x="333.00" y="319.00" width="2.00" height="5.50" fill="#1a5a9e" shape-rendering="crispEdges"/>
<rect x="335.00" y="212.90" width="5.00" height="109.10" fill="#dd6060" shape-rendering="crispEdges"/>
<rect x="335.00" y="322.00" width="5.00" height="2.50" fill="#1a5a9e" shape-rendering="crispEdges"/>
<rect x="340.00" y="212.90" width="4.00" height="111.60" fill="#dd6060" shape-rendering="crispEdges"/>
<rect x="344.00" y="212.90" width="4.00" height="78.10" fill="#dd6060" shape-rendering="crispEdges"/>
<rect x="344.00" y="291.00" width="4.00" height="33.50" fill="#1a5a9e" shape-rendering="crispEdges"/>
<rect x="348.00" y="212.90" width="5.00" height="75.80" fill="#dd6060" shape-rendering="crispEdges"/>
<rect x="348.00" y="288.70" width="5.00" height="35.80" fill="#1a5a9e" shape-rendering="crispEdges"/>
<rect x="353.00" y="212.90" width="4.00" height="91.50" fill="#dd6060" shape-rendering="crispEdges"/>
<rect x="353.00" y="304.40" width="4.00" height="20.10" fill="#1a5a9e" shape-rendering="crispEdges"/>
<rect x="357.00" y="212.90" width="2.00" height="86.70" fill="#dd6060" shape-rendering="crispEdges"/>
<rect x="357.00" y="299.60" width="2.00" height="24.90" fill="#1a5a9e" shape-rendering="crispEdges"/>
<rect x="359.00" y="212.90" width="2.00" height="106.60" fill="#dd6060" shape-rendering="crispEdges"/>
<rect x="359.00" y="319.50" width="2.00" height="5.00" fill="#1a5a9e" shape-rendering="crispEdges"/>
<rect x="361.00" y="212.90" width="4.00" height="78.10" fill="#dd6060" shape-rendering="crispEdges"/>
<rect x="361.00" y="291.00" width="4.00" height="33.50" fill="#1a5a9e" shape-rendering="crispEdges"/>
<rect x="365.00" y="212.90" width="9.00" height="77.10" fill="#dd6060" shape-rendering="crispEdges"/>
<rect x="365.00" y="290.00" width="9.00" height="34.50" fill="#1a5a9e" shape-rendering="crispEdges"/>
<rect x="374.00" y="212.90" width="1.00" height="87.10" fill="#dd6060" shape-rendering="crispEdges"/>
<rect x="374.00" y="300.00" width="1.00" height="24.50" fill="#1a5a9e" shape-rendering="crispEdges"/>
<rect x="375.00" y="212.90" width="5.00" height="79.10" fill="#dd6060" shape-rendering="crispEdges"/>
<rect x="375.00" y="292.00" width="5.00" height="32.50" fill="#1a5a9e" shape-rendering="crispEdges"/>
<rect x="380.00" y="212.90" width="1.00" height="107.10" fill="#dd6060" shape-rendering="crispEdges"/>
<rect x="380.00" y="320.00" width="1.00" height="4.50" fill="#1a5a9e" shape-rendering="crispEdges"/>
<rect x="381.00" y="212.90" width="3.00" height="77.10" fill="#dd6060" shape-rendering="crispEdges"/>
<rect x="381.00" y="290.00" width="3.00" height="34.50" fill="#1a5a9e" shape-rendering="crispEdges"/>
<rect x="384.00" y="212.90" width="3.00" height="101.10" fill="#dd6060" shape-rendering="crispEdges"/>
<rect x="384.00" y="314.00" width="3.00" height="10.50" fill="#1a5a9e" shape-rendering="crispEdges"/>
<rect x="387.00" y="212.90" width="4.00" height="81.80" fill="#dd6060" shape-rendering="crispEdges"/>
<rect x="387.00" y="294.70" width="4.00" height="29.80" fill="#1a5a9e" shape-rendering="crispEdges"/>
<rect x="391.00" y="212.90" width="2.00" height="101.10" fill="#dd6060" shape-rendering="crispEdges"/>
<rect x="391.00" y="314.00" width="2.00" height="10.50" fill="#1a5a9e" shape-rendering="crispEdges"/>
<rect x="393.00" y="212.90" width="1.00" height="108.10" fill="#dd6060" shape-rendering="crispEdges"/>
<rect x="393.00" y="321.00" width="1.00" height="3.50" fill="#1a5a9e" shape-rendering="crispEdges"/>
<rect x="394.00" y="212.90" width="4.00" height="72.10" fill="#dd6060" shape-rendering="crispEdges"/>
<rect x="394.00" y="285.00" width="4.00" height="39.50" fill="#1a5a9e" shape-rendering="crispEdges"/>
<rect x="398.00" y="212.90" width="5.00" height="81.80" fill="#dd6060" shape-rendering="crispEdges"/>
<rect x="398.00" y="294.70" width="5.00" height="29.80" fill="#1a5a9e" shape-rendering="crispEdges"/>
<rect x="403.00" y="212.90" width="2.00" height="101.10" fill="#dd6060" shape-rendering="crispEdges"/>
<rect x="403.00" y="314.00" width="2.00" height="10.50" fill="#1a5a9e" shape-rendering="crispEdges"/>
<rect x="405.00" y="212.90" width="3.00" height="78.10" fill="#dd6060" shape-rendering="crispEdges"/>
<rect x="405.00" y="291.00" width="3.00" height="33.50" fill="#1a5a9e" shape-rendering="crispEdges"/>
<rect x="408.00" y="212.90" width="7.00" height="79.10" fill="#dd6060" shape-rendering="crispEdges"/>
<rect x="408.00" y="292.00" width="7.00" height="32.50" fill="#1a5a9e" shape-rendering="crispEdges"/>
<rect x="415.00" y="212.90" width="2.00" height="103.50" fill="#dd6060" shape-rendering="crispEdges"/>
<rect x="415.00" y="316.40" width="2.00" height="8.10" fill="#1a5a9e" shape-rendering="crispEdges"/>
<rect x="417.00" y="212.90" width="2.00" height="108.10" fill="#dd6060" shape-rendering="crispEdges"/>
<rect x="417.00" y="321.00" width="2.00" height="3.50" fill="#1a5a9e" shape-rendering="crispEdges"/>
<rect x="419.00" y="212.90" width="5.00" height="91.50" fill="#dd6060" shape-rendering="crispEdges"/>
<rect x="419.00" y="304.40" width="5.00" height="20.10" fill="#1a5a9e" shape-rendering="crispEdges"/>
<rect x="424.00" y="212.90" width="3.00" height="91.10" fill="#dd6060" shape-rendering="crispEdges"/>
<rect x="424.00" y="304.00" width="3.00" height="20.50" fill="#1a5a9e" shape-rendering="crispEdges"/>
<rect x="427.00" y="212.90" width="1.00" height="96.10" fill="#dd6060" shape-rendering="crispEdges"/>
<rect x="427.00" y="309.00" width="1.00" height="15.50" fill="#1a5a9e" shape-rendering="crispEdges"/>
<rect x="428.00" y="212.90" width="5.00" height="74.60" fill="#dd6060" shape-rendering="crispEdges"/>
<rect x="428.00" y="287.50" width="5.00" height="37.00" fill="#1a5a9e" shape-rendering="crispEdges"/>
<rect x="433.00" y="212.90" width="1.00" height="87.10" fill="#dd6060" shape-rendering="crispEdges"/>
<rect x="433.00" y="300.00" width="1.00" height="24.50" fill="#1a5a9e" shape-rendering="crispEdges"/>
<rect x="434.00" y="212.90" width="6.00" height="86.70" fill="#dd6060" shape-rendering="crispEdges"/>
<rect x="434.00" y="299.60" width="6.00" height="24.90" fill="#1a5a9e" shape-rendering="crispEdges"/>
<rect x="440.00" y="212.90" width="2.00" height="79.10" fill="#dd6060" shape-rendering="crispEdges"/>
<rect x="440.00" y="292.00" width="2.00" height="32.50" fill="#1a5a9e" shape-rendering="crispEdges"/>
<rect x="442.00" y="212.90" width="4.00" height="96.10" fill="#dd6060" shape-rendering="crispEdges"/>
<rect x="442.00" y="309.00" width="4.00" height="15.50" fill="#1a5a9e" shape-rendering="crispEdges"/>
<rect x="446.00" y="212.90" width="6.00" height="79.10" fill="#dd6060" shape-rendering="crispEdges"/>
<rect x="446.00" y="292.00" width="6.00" height="32.50" fill="#1a5a9e" shape-rendering="crispEdges"/>
<rect x="452.00" y="212.90" width="4.00" height="86.70" fill="#dd6060" shape-rendering="crispEdges"/>
<rect x="452.00" y="299.60" width="4.00" height="24.90" fill="#1a5a9e" shape-rendering="crispEdges"/>
<rect x="456.00" y="212.90" width="2.00" height="89.10" fill="#dd6060" shape-rendering="crispEdges"/>
<rect x="456.00" y="302.00" width="2.00" height="22.50" fill="#1a5a9e" shape-rendering="crispEdges"/>
<rect x="458.00" y="212.90" width="3.00" height="101.10" fill="#dd6060" shape-rendering="crispEdges"/>
<rect x="458.00" y="314.00" width="3.00" height="10.50" fill="#1a5a9e" shape-rendering="crispEdges"/>
<rect x="461.00" y="212.90" width="4.00" height="76.10" fill="#dd6060" shape-rendering="crispEdges"/>
<rect x="461.00" y="289.00" width="4.00" height="35.50" fill="#1a5a9e" shape-rendering="crispEdges"/>
<rect x="465.00" y="212.90" width="2.00" height="87.10" fill="#dd6060" shape-rendering="crispEdges"/>
<rect x="465.00" y="300.00" width="2.00" height="24.50" fill="#1a5a9e" shape-rendering="crispEdges"/>
<rect x="467.00" y="212.90" width="4.00" height="74.60" fill="#dd6060" shape-rendering="crispEdges"/>
<rect x="467.00" y="287.50" width="4.00" height="37.00" fill="#1a5a9e" shape-rendering="crispEdges"/>
<rect x="471.00" y="212.90" width="2.00" height="101.10" fill="#dd6060" shape-rendering="crispEdges"/>
<rect x="471.00" y="314.00" width="2.00" height="10.50" fill="#1a5a9e" shape-rendering="crispEdges"/>
<rect x="473.00" y="212.90" width="2.00" height="96.10" fill="#dd6060" shape-rendering="crispEdges"/>
<rect x="473.00" y="309.00" width="2.00" height="15.50" fill="#1a5a9e" shape-rendering="crispEdges"/>
<rect x="475.00" y="212.90" width="3.00" height="93.90" fill="#dd6060" shape-rendering="crispEdges"/>
<rect x="475.00" y="306.80" width="3.00" height="17.70" fill="#1a5a9e" shape-rendering="crispEdges"/>
<rect x="478.00" y="212.90" width="3.00" height="98.70" fill="#dd6060" shape-rendering="crispEdges"/>
<rect x="478.00" y="311.60" width="3.00" height="12.90" fill="#1a5a9e" shape-rendering="crispEdges"/>
<rect x="481.00" y="212.90" width="3.00" height="67.40" fill="#dd6060" shape-rendering="crispEdges"/>
<rect x="481.00" y="280.30" width="3.00" height="44.20" fill="#1a5a9e" shape-rendering="crispEdges"/>
<rect x="484.00" y="212.90" width="2.00" height="89.10" fill="#dd6060" shape-rendering="crispEdges"/>
<rect x="484.00" y="302.00" width="2.00" height="22.50" fill="#1a5a9e" shape-rendering="crispEdges"/>
<rect x="486.00" y="212.90" width="4.00" height="81.80" fill="#dd6060" shape-rendering="crispEdges"/>
<rect x="486.00" y="294.70" width="4.00" height="29.80" fill="#1a5a9e" shape-rendering="crispEdges"/>
<rect x="490.00" y="212.90" width="1.00" height="108.10" fill="#dd6060" shape-rendering="crispEdges"/>
<rect x="490.00" y="321.00" width="1.00" height="3.50" fill="#1a5a9e" shape-rendering="crispEdges"/>
<rect x="491.00" y="212.90" width="3.00" height="62.60" fill="#dd6060" shape-rendering="crispEdges"/>
<rect x="491.00" y="275.50" width="3.00" height="49.00" fill="#1a5a9e" shape-rendering="crispEdges"/>
<rect x="494.00" y="212.90" width="5.00" height="108.60" fill="#dd6060" shape-rendering="crispEdges"/>
<rect x="494.00" y="321.50" width="5.00" height="3.00" fill="#1a5a9e" shape-rendering="crispEdges"/>
<rect x="499.00" y="212.90" width="3.00" height="77.10" fill="#dd6060" shape-rendering="crispEdges"/>
<rect x="499.00" y="290.00" width="3.00" height="34.50" fill="#1a5a9e" shape-rendering="crispEdges"/>
<rect x="502.00" y="212.90" width="3.00" height="91.50" fill="#dd6060" shape-rendering="crispEdges"/>
<rect x="502.00" y="304.40" width="3.00" height="20.10" fill="#1a5a9e" shape-rendering="crispEdges"/>
<rect x="505.00" y="212.90" width="4.00" height="108.10" fill="#dd6060" shape-rendering="crispEdges"/>
<rect x="505.00" y="321.00" width="4.00" height="3.50" fill="#1a5a9e" shape-rendering="crispEdges"/>
<rect x="509.00" y="212.90" width="5.00" height="79.10" fill="#dd6060" shape-rendering="crispEdges"/>
<rect x="509.00" y="292.00" width="5.00" height="32.50" fill="#1a5a9e" shape-rendering="crispEdges"/>
<rect x="514.00" y="212.90" width="1.00" height="79.10" fill="#dd6060" shape-rendering="crispEdges"/>
<rect x="514.00" y="292.00" width="1.00" height="32.50" fill="#1a5a9e" shape-rendering="crispEdges"/>
<rect x="515.00" y="212.90" width="6.00" height="91.10" fill="#dd6060" shape-rendering="crispEdges"/>
<rect x="515.00" y="304.00" width="6.00" height="20.50" fill="#1a5a9e" shape-rendering="crispEdges"/>
<rect x="521.00" y="212.90" width="3.00" height="78.70" fill="#dd6060" shape-rendering="crispEdges"/>
<rect x="521.00" y="291.60" width="3.00" height="32.90" fill="#1a5a9e" shape-rendering="crispEdges"/>
<rect x="524.00" y="212.90" width="2.00" height="111.60" fill="#dd6060" shape-rendering="crispEdges"/>
<rect x="244.00" y="214.60" width="4.00" height="107.40" fill="#ffffff" shape-rendering="crispEdges"/>
<rect x="251.00" y="221.90" width="3.00" height="96.10" fill="#ffffff" shape-rendering="crispEdges"/>
<rect x="257.00" y="257.40" width="3.00" height="43.60" fill="#ffffff" shape-rendering="crispEdges"/>
<rect x="260.00" y="227.30" width="1.00" height="85.70" fill="#ffffff" fill-opacity="0.7" shape-rendering="crispEdges"/>
<rect x="265.00" y="244.70" width="1.00" height="41.30" fill="#ffffff" fill-opacity="0.7" shape-rendering="crispEdges"/>
<rect x="266.00" y="283.70" width="2.00" height="2.80" fill="#ffffff" shape-rendering="crispEdges"/>
<rect x="268.00" y="243.00" width="1.00" height="46.00" fill="#ffffff" fill-opacity="0.7" shape-rendering="crispEdges"/>
<rect x="276.00" y="250.80" width="1.00" height="38.20" fill="#ffffff" fill-opacity="0.7" shape-rendering="crispEdges"/>
<rect x="281.00" y="227.00" width="1.00" height="87.00" fill="#ffffff" fill-opacity="0.7" shape-rendering="crispEdges"/>
<rect x="285.00" y="212.90" width="2.00" height="109.10" fill="#ffffff" shape-rendering="crispEdges"/>
<rect x="291.00" y="244.00" width="1.00" height="60.00" fill="#ffffff" fill-opacity="0.7" shape-rendering="crispEdges"/>
<rect x="292.00" y="212.90" width="2.00" height="14.40" fill="#ffffff" shape-rendering="crispEdges"/>
<rect x="297.00" y="244.00" width="1.00" height="60.00" fill="#ffffff" fill-opacity="0.7" shape-rendering="crispEdges"/>
<rect x="304.00" y="212.90" width="2.00" height="9.10" fill="#ffffff" shape-rendering="crispEdges"/>
<rect x="312.00" y="256.00" width="1.00" height="31.50" fill="#ffffff" fill-opacity="0.7" shape-rendering="crispEdges"/>
<rect x="317.00" y="212.90" width="3.00" height="6.10" fill="#ffffff" shape-rendering="crispEdges"/>
<rect x="325.00" y="275.00" width="1.00" height="29.00" fill="#ffffff" fill-opacity="0.7" shape-rendering="crispEdges"/>
<rect x="335.00" y="214.00" width="3.00" height="108.00" fill="#ffffff" shape-rendering="crispEdges"/>
<rect x="338.00" y="214.00" width="2.00" height="97.60" fill="#ffffff" shape-rendering="crispEdges"/>
<rect x="358.00" y="251.00" width="1.00" height="63.00" fill="#ffffff" fill-opacity="0.7" shape-rendering="crispEdges"/>
<rect x="359.00" y="222.50" width="2.00" height="97.00" fill="#ffffff" shape-rendering="crispEdges"/>
<rect x="364.00" y="258.60" width="1.00" height="41.00" fill="#ffffff" fill-opacity="0.7" shape-rendering="crispEdges"/>
<rect x="366.00" y="244.00" width="1.00" height="51.00" fill="#ffffff" fill-opacity="0.7" shape-rendering="crispEdges"/>
<rect x="374.00" y="239.00" width="1.00" height="61.00" fill="#ffffff" fill-opacity="0.7" shape-rendering="crispEdges"/>
<rect x="379.00" y="212.90" width="2.00" height="2.60" fill="#ffffff" shape-rendering="crispEdges"/>
<rect x="380.00" y="212.90" width="1.00" height="107.10" fill="#ffffff" fill-opacity="0.7" shape-rendering="crispEdges"/>
<rect x="393.00" y="239.00" width="1.00" height="82.00" fill="#ffffff" shape-rendering="crispEdges"/>
<rect x="392.00" y="212.90" width="2.00" height="2.60" fill="#ffffff" shape-rendering="crispEdges"/>
<rect x="396.00" y="215.00" width="1.00" height="105.00" fill="#ffffff" fill-opacity="0.7" shape-rendering="crispEdges"/>
<rect x="405.00" y="280.00" width="1.00" height="41.00" fill="#ffffff" fill-opacity="0.7" shape-rendering="crispEdges"/>
<rect x="405.00" y="212.90" width="3.00" height="2.60" fill="#ffffff" shape-rendering="crispEdges"/>
<rect x="414.00" y="212.90" width="3.00" height="14.10" fill="#ffffff" shape-rendering="crispEdges"/>
<rect x="416.00" y="212.90" width="2.00" height="16.80" fill="#ffffff" shape-rendering="crispEdges"/>
<rect x="417.00" y="212.90" width="2.00" height="9.10" fill="#ffffff" shape-rendering="crispEdges"/>
<rect x="419.00" y="212.90" width="2.00" height="107.10" fill="#ffffff" shape-rendering="crispEdges"/>
<rect x="427.00" y="222.50" width="1.00" height="86.50" fill="#ffffff" shape-rendering="crispEdges"/>
<rect x="433.00" y="237.00" width="1.00" height="63.00" fill="#ffffff" fill-opacity="0.7" shape-rendering="crispEdges"/>
<rect x="435.00" y="212.90" width="4.00" height="4.70" fill="#ffffff" shape-rendering="crispEdges"/>
<rect x="447.00" y="240.00" width="1.00" height="50.00" fill="#ffffff" fill-opacity="0.7" shape-rendering="crispEdges"/>
<rect x="450.00" y="250.00" width="1.00" height="40.00" fill="#ffffff" fill-opacity="0.7" shape-rendering="crispEdges"/>
<rect x="454.00" y="237.00" width="1.00" height="63.00" fill="#ffffff" fill-opacity="0.7" shape-rendering="crispEdges"/>
<rect x="458.00" y="227.00" width="3.00" height="87.00" fill="#ffffff" shape-rendering="crispEdges"/>
<rect x="459.00" y="212.90" width="3.00" height="4.70" fill="#ffffff" shape-rendering="crispEdges"/>
<rect x="465.00" y="222.50" width="2.00" height="98.50" fill="#ffffff" fill-opacity="0.7" shape-rendering="crispEdges"/>
<rect x="471.00" y="244.00" width="2.00" height="70.00" fill="#ffffff" shape-rendering="crispEdges"/>
<rect x="475.00" y="246.60" width="3.00" height="60.20" fill="#ffffff" shape-rendering="crispEdges"/>
<rect x="484.00" y="253.80" width="2.00" height="48.20" fill="#ffffff" shape-rendering="crispEdges"/>
<rect x="490.00" y="244.00" width="1.00" height="77.00" fill="#ffffff" shape-rendering="crispEdges"/>
<rect x="494.00" y="212.90" width="6.00" height="14.40" fill="#ffffff" shape-rendering="crispEdges"/>
<rect x="494.00" y="316.50" width="8.00" height="7.00" fill="#ffffff" shape-rendering="crispEdges"/>
<rect x="499.00" y="227.00" width="2.00" height="53.00" fill="#ffffff" shape-rendering="crispEdges"/>
<rect x="503.00" y="212.90" width="3.00" height="4.70" fill="#ffffff" shape-rendering="crispEdges"/>
<rect x="514.00" y="244.00" width="1.00" height="46.00" fill="#ffffff" fill-opacity="0.7" shape-rendering="crispEdges"/>
<rect x="521.00" y="251.40" width="2.00" height="40.20" fill="#ffffff" shape-rendering="crispEdges"/>
<rect x="257.00" y="300.00" width="3.00" height="2.50" fill="#7dbb4a" shape-rendering="crispEdges"/>
<rect x="265.00" y="285.00" width="3.00" height="5.00" fill="#7dbb4a" shape-rendering="crispEdges"/>
<rect x="280.00" y="285.00" width="1.00" height="5.00" fill="#7dbb4a" shape-rendering="crispEdges"/>
<rect x="310.00" y="280.00" width="2.00" height="17.00" fill="#7dbb4a" shape-rendering="crispEdges"/>
<rect x="347.00" y="284.60" width="1.00" height="6.40" fill="#7dbb4a" shape-rendering="crispEdges"/>
<rect x="361.00" y="285.00" width="3.00" height="6.00" fill="#7dbb4a" shape-rendering="crispEdges"/>
<rect x="418.00" y="225.00" width="1.00" height="75.00" fill="#7dbb4a" fill-opacity="0.7" shape-rendering="crispEdges"/>
<rect x="470.00" y="285.00" width="3.00" height="3.70" fill="#7dbb4a" shape-rendering="crispEdges"/>
<rect x="498.00" y="265.00" width="1.00" height="6.00" fill="#7dbb4a" shape-rendering="crispEdges"/>
<rect x="500.00" y="300.00" width="3.00" height="9.00" fill="#7dbb4a" shape-rendering="crispEdges"/>
<rect x="374.00" y="300.00" width="1.00" height="4.00" fill="#7dbb4a" fill-opacity="0.7" shape-rendering="crispEdges"/>
<rect x="412.00" y="300.00" width="1.00" height="6.00" fill="#7dbb4a" fill-opacity="0.7" shape-rendering="crispEdges"/>
<rect x="452.00" y="296.00" width="1.00" height="4.00" fill="#7dbb4a" fill-opacity="0.7" shape-rendering="crispEdges"/>
<rect x="526.00" y="212.90" width="2.00" height="49.10" fill="#1a5a9e" shape-rendering="crispEdges"/>
<rect x="526.00" y="262.00" width="2.00" height="62.50" fill="#dd6060" shape-rendering="crispEdges"/>
<rect x="528.00" y="212.90" width="2.00" height="62.00" fill="#1a5a9e" shape-rendering="crispEdges"/>
<rect x="528.00" y="274.90" width="2.00" height="49.60" fill="#dd6060" shape-rendering="crispEdges"/>
<rect x="530.00" y="212.90" width="4.00" height="58.10" fill="#1a5a9e" shape-rendering="crispEdges"/>
<rect x="530.00" y="271.00" width="4.00" height="53.50" fill="#dd6060" shape-rendering="crispEdges"/>
<rect x="534.00" y="212.90" width="1.00" height="49.10" fill="#1a5a9e" shape-rendering="crispEdges"/>
<rect x="534.00" y="262.00" width="1.00" height="62.50" fill="#dd6060" shape-rendering="crispEdges"/>
<rect x="535.00" y="212.90" width="3.00" height="17.40" fill="#1a5a9e" shape-rendering="crispEdges"/>
<rect x="535.00" y="230.30" width="3.00" height="94.20" fill="#dd6060" shape-rendering="crispEdges"/>
<rect x="555.00" y="212.90" width="4.00" height="69.70" fill="#1a5a9e" shape-rendering="crispEdges"/>
<rect x="555.00" y="282.60" width="4.00" height="41.90" fill="#dd6060" shape-rendering="crispEdges"/>
<rect x="559.00" y="212.90" width="1.00" height="62.60" fill="#1a5a9e" shape-rendering="crispEdges"/>
<rect x="559.00" y="275.50" width="1.00" height="49.00" fill="#dd6060" shape-rendering="crispEdges"/>
<rect x="560.00" y="212.90" width="5.00" height="50.50" fill="#1a5a9e" shape-rendering="crispEdges"/>
<rect x="560.00" y="263.40" width="5.00" height="61.10" fill="#dd6060" shape-rendering="crispEdges"/>
<rect x="565.00" y="212.90" width="4.00" height="24.10" fill="#1a5a9e" shape-rendering="crispEdges"/>
<rect x="565.00" y="237.00" width="4.00" height="87.50" fill="#dd6060" shape-rendering="crispEdges"/>
<rect x="569.00" y="212.90" width="5.00" height="65.00" fill="#1a5a9e" shape-rendering="crispEdges"/>
<rect x="569.00" y="277.90" width="5.00" height="46.60" fill="#dd6060" shape-rendering="crispEdges"/>
<rect x="574.00" y="212.90" width="2.00" height="50.50" fill="#1a5a9e" shape-rendering="crispEdges"/>
<rect x="574.00" y="263.40" width="2.00" height="61.10" fill="#dd6060" shape-rendering="crispEdges"/>
<rect x="576.00" y="212.90" width="3.00" height="91.50" fill="#1a5a9e" shape-rendering="crispEdges"/>
<rect x="576.00" y="304.40" width="3.00" height="20.10" fill="#dd6060" shape-rendering="crispEdges"/>
<rect x="579.00" y="212.90" width="3.00" height="57.10" fill="#1a5a9e" shape-rendering="crispEdges"/>
<rect x="579.00" y="270.00" width="3.00" height="54.50" fill="#dd6060" shape-rendering="crispEdges"/>
<rect x="604.00" y="212.90" width="3.00" height="45.10" fill="#1a5a9e" shape-rendering="crispEdges"/>
<rect x="604.00" y="258.00" width="3.00" height="66.50" fill="#dd6060" shape-rendering="crispEdges"/>
<rect x="607.00" y="212.90" width="3.00" height="21.00" fill="#1a5a9e" shape-rendering="crispEdges"/>
<rect x="607.00" y="233.90" width="3.00" height="90.60" fill="#dd6060" shape-rendering="crispEdges"/>
<rect x="610.00" y="212.90" width="1.00" height="47.10" fill="#1a5a9e" shape-rendering="crispEdges"/>
<rect x="610.00" y="260.00" width="1.00" height="64.50" fill="#dd6060" shape-rendering="crispEdges"/>
<rect x="611.00" y="212.90" width="3.00" height="47.10" fill="#1a5a9e" shape-rendering="crispEdges"/>
<rect x="611.00" y="260.00" width="3.00" height="64.50" fill="#dd6060" shape-rendering="crispEdges"/>
<rect x="614.00" y="212.90" width="3.00" height="49.10" fill="#1a5a9e" shape-rendering="crispEdges"/>
<rect x="614.00" y="262.00" width="3.00" height="62.50" fill="#dd6060" shape-rendering="crispEdges"/>
<rect x="617.00" y="212.90" width="1.00" height="52.10" fill="#1a5a9e" shape-rendering="crispEdges"/>
<rect x="617.00" y="265.00" width="1.00" height="59.50" fill="#dd6060" shape-rendering="crispEdges"/>
<rect x="618.00" y="212.90" width="2.00" height="45.10" fill="#1a5a9e" shape-rendering="crispEdges"/>
<rect x="618.00" y="258.00" width="2.00" height="66.50" fill="#dd6060" shape-rendering="crispEdges"/>
<rect x="620.00" y="212.90" width="3.00" height="45.10" fill="#1a5a9e" shape-rendering="crispEdges"/>
<rect x="620.00" y="258.00" width="3.00" height="66.50" fill="#dd6060" shape-rendering="crispEdges"/>
<rect x="623.00" y="212.90" width="2.00" height="4.10" fill="#1a5a9e" shape-rendering="crispEdges"/>
<rect x="623.00" y="217.00" width="2.00" height="107.50" fill="#dd6060" shape-rendering="crispEdges"/>
<rect x="625.00" y="212.90" width="3.00" height="42.10" fill="#1a5a9e" shape-rendering="crispEdges"/>
<rect x="625.00" y="255.00" width="3.00" height="69.50" fill="#dd6060" shape-rendering="crispEdges"/>
<rect x="628.00" y="212.90" width="4.00" height="49.70" fill="#1a5a9e" shape-rendering="crispEdges"/>
<rect x="628.00" y="262.60" width="4.00" height="61.90" fill="#dd6060" shape-rendering="crispEdges"/>
<rect x="632.00" y="212.90" width="3.00" height="51.10" fill="#1a5a9e" shape-rendering="crispEdges"/>
<rect x="632.00" y="264.00" width="3.00" height="60.50" fill="#dd6060" shape-rendering="crispEdges"/>
<rect x="635.00" y="212.90" width="1.00" height="49.10" fill="#1a5a9e" shape-rendering="crispEdges"/>
<rect x="635.00" y="262.00" width="1.00" height="62.50" fill="#dd6060" shape-rendering="crispEdges"/>
<rect x="636.00" y="212.90" width="2.00" height="49.10" fill="#1a5a9e" shape-rendering="crispEdges"/>
<rect x="636.00" y="262.00" width="2.00" height="62.50" fill="#dd6060" shape-rendering="crispEdges"/>
<rect x="638.00" y="212.90" width="2.00" height="42.10" fill="#1a5a9e" shape-rendering="crispEdges"/>
<rect x="638.00" y="255.00" width="2.00" height="69.50" fill="#dd6060" shape-rendering="crispEdges"/>
<rect x="646.00" y="212.90" width="3.00" height="62.00" fill="#1a5a9e" shape-rendering="crispEdges"/>
<rect x="646.00" y="274.90" width="3.00" height="49.60" fill="#dd6060" shape-rendering="crispEdges"/>
<rect x="649.00" y="212.90" width="3.00" height="62.00" fill="#1a5a9e" shape-rendering="crispEdges"/>
<rect x="649.00" y="274.90" width="3.00" height="49.60" fill="#dd6060" shape-rendering="crispEdges"/>
<rect x="652.00" y="212.90" width="3.00" height="62.00" fill="#1a5a9e" shape-rendering="crispEdges"/>
<rect x="652.00" y="274.90" width="3.00" height="49.60" fill="#dd6060" shape-rendering="crispEdges"/>
<rect x="655.00" y="212.90" width="3.00" height="22.80" fill="#1a5a9e" shape-rendering="crispEdges"/>
<rect x="655.00" y="235.70" width="3.00" height="88.80" fill="#dd6060" shape-rendering="crispEdges"/>
<rect x="658.00" y="212.90" width="1.00" height="61.10" fill="#1a5a9e" shape-rendering="crispEdges"/>
<rect x="658.00" y="274.00" width="1.00" height="50.50" fill="#dd6060" shape-rendering="crispEdges"/>
<rect x="538.00" y="212.90" width="1.00" height="111.60" fill="#dd6060" shape-rendering="crispEdges"/>
<rect x="539.00" y="212.90" width="3.00" height="85.70" fill="#dd6060" shape-rendering="crispEdges"/>
<rect x="539.00" y="298.60" width="3.00" height="25.90" fill="#1a5a9e" shape-rendering="crispEdges"/>
<rect x="542.00" y="212.90" width="2.00" height="101.80" fill="#dd6060" shape-rendering="crispEdges"/>
<rect x="542.00" y="314.70" width="2.00" height="9.80" fill="#1a5a9e" shape-rendering="crispEdges"/>
<rect x="544.00" y="212.90" width="4.00" height="88.90" fill="#dd6060" shape-rendering="crispEdges"/>
<rect x="544.00" y="301.80" width="4.00" height="22.70" fill="#1a5a9e" shape-rendering="crispEdges"/>
<rect x="548.00" y="212.90" width="5.00" height="74.80" fill="#dd6060" shape-rendering="crispEdges"/>
<rect x="548.00" y="287.70" width="5.00" height="36.80" fill="#1a5a9e" shape-rendering="crispEdges"/>
<rect x="553.00" y="212.90" width="2.00" height="109.10" fill="#dd6060" shape-rendering="crispEdges"/>
<rect x="553.00" y="322.00" width="2.00" height="2.50" fill="#1a5a9e" shape-rendering="crispEdges"/>
<rect x="582.00" y="212.90" width="2.00" height="93.90" fill="#dd6060" shape-rendering="crispEdges"/>
<rect x="582.00" y="306.80" width="2.00" height="17.70" fill="#1a5a9e" shape-rendering="crispEdges"/>
<rect x="584.00" y="212.90" width="4.00" height="96.10" fill="#dd6060" shape-rendering="crispEdges"/>
<rect x="584.00" y="309.00" width="4.00" height="15.50" fill="#1a5a9e" shape-rendering="crispEdges"/>
<rect x="588.00" y="212.90" width="2.00" height="93.90" fill="#dd6060" shape-rendering="crispEdges"/>
<rect x="588.00" y="306.80" width="2.00" height="17.70" fill="#1a5a9e" shape-rendering="crispEdges"/>
<rect x="590.00" y="212.90" width="6.00" height="91.50" fill="#dd6060" shape-rendering="crispEdges"/>
<rect x="590.00" y="304.40" width="6.00" height="20.10" fill="#1a5a9e" shape-rendering="crispEdges"/>
<rect x="596.00" y="212.90" width="4.00" height="96.10" fill="#dd6060" shape-rendering="crispEdges"/>
<rect x="596.00" y="309.00" width="4.00" height="15.50" fill="#1a5a9e" shape-rendering="crispEdges"/>
<rect x="600.00" y="212.90" width="2.00" height="21.00" fill="#ffffff" shape-rendering="crispEdges"/>
<rect x="600.00" y="233.90" width="2.00" height="77.10" fill="#dd6060" shape-rendering="crispEdges"/>
<rect x="600.00" y="311.00" width="2.00" height="13.50" fill="#1a5a9e" shape-rendering="crispEdges"/>
<rect x="602.00" y="212.90" width="2.00" height="18.60" fill="#7dbb4a" shape-rendering="crispEdges"/>
<rect x="602.00" y="231.50" width="2.00" height="33.50" fill="#1a5a9e" shape-rendering="crispEdges"/>
<rect x="602.00" y="265.00" width="2.00" height="59.50" fill="#dd6060" shape-rendering="crispEdges"/>
<rect x="640.00" y="212.90" width="2.00" height="43.90" fill="#ffffff" shape-rendering="crispEdges"/>
<rect x="640.00" y="256.80" width="2.00" height="3.20" fill="#1a5a9e" shape-rendering="crispEdges"/>
<rect x="640.00" y="260.00" width="2.00" height="38.00" fill="#dd6060" shape-rendering="crispEdges"/>
<rect x="640.00" y="298.00" width="2.00" height="26.50" fill="#1a5a9e" shape-rendering="crispEdges"/>
<rect x="642.00" y="212.90" width="3.00" height="49.10" fill="#ffffff" shape-rendering="crispEdges"/>
<rect x="642.00" y="262.00" width="3.00" height="36.00" fill="#dd6060" shape-rendering="crispEdges"/>
<rect x="642.00" y="298.00" width="3.00" height="26.50" fill="#1a5a9e" shape-rendering="crispEdges"/>
<rect x="645.00" y="212.90" width="1.00" height="49.10" fill="#ffffff" shape-rendering="crispEdges"/>
<rect x="645.00" y="262.00" width="1.00" height="48.80" fill="#dd6060" shape-rendering="crispEdges"/>
<rect x="645.00" y="310.80" width="1.00" height="2.60" fill="#7dbb4a" shape-rendering="crispEdges"/>
<rect x="645.00" y="313.40" width="1.00" height="11.10" fill="#ffffff" shape-rendering="crispEdges"/>
<rect x="530.00" y="212.90" width="1.00" height="7.80" fill="#ffffff" fill-opacity="0.7" shape-rendering="crispEdges"/>
<rect x="543.00" y="212.90" width="1.00" height="21.10" fill="#ffffff" fill-opacity="0.7" shape-rendering="crispEdges"/>
<rect x="548.00" y="249.60" width="1.00" height="37.40" fill="#ffffff" fill-opacity="0.7" shape-rendering="crispEdges"/>
<rect x="557.00" y="241.00" width="1.00" height="63.00" fill="#ffffff" fill-opacity="0.7" shape-rendering="crispEdges"/>
<rect x="560.00" y="212.90" width="2.00" height="4.10" fill="#ffffff" fill-opacity="0.7" shape-rendering="crispEdges"/>
<rect x="558.00" y="212.90" width="2.00" height="4.70" fill="#ffffff" shape-rendering="crispEdges"/>
<rect x="575.00" y="212.90" width="2.00" height="9.60" fill="#ffffff" shape-rendering="crispEdges"/>
<rect x="584.00" y="244.00" width="2.00" height="65.00" fill="#ffffff" fill-opacity="0.7" shape-rendering="crispEdges"/>
<rect x="588.00" y="212.90" width="2.00" height="9.60" fill="#ffffff" shape-rendering="crispEdges"/>
<rect x="596.00" y="244.00" width="2.00" height="65.00" fill="#ffffff" fill-opacity="0.7" shape-rendering="crispEdges"/>
<rect x="610.00" y="262.00" width="1.00" height="36.00" fill="#ffffff" fill-opacity="0.7" shape-rendering="crispEdges"/>
<rect x="629.00" y="212.90" width="2.00" height="4.10" fill="#ffffff" shape-rendering="crispEdges"/>
<rect x="634.00" y="250.80" width="1.00" height="48.20" fill="#ffffff" fill-opacity="0.7" shape-rendering="crispEdges"/>
<rect x="636.00" y="212.90" width="4.00" height="10.10" fill="#ffffff" shape-rendering="crispEdges"/>
<rect x="630.00" y="212.90" width="1.00" height="6.60" fill="#ffffff" fill-opacity="0.7" shape-rendering="crispEdges"/>
<rect x="638.00" y="212.90" width="2.00" height="11.40" fill="#ffffff" shape-rendering="crispEdges"/>
<rect x="646.00" y="212.90" width="3.00" height="31.90" fill="#ffffff" shape-rendering="crispEdges"/>
<rect x="649.00" y="212.90" width="3.00" height="24.60" fill="#ffffff" shape-rendering="crispEdges"/>
<rect x="646.00" y="313.00" width="5.00" height="9.40" fill="#ffffff" shape-rendering="crispEdges"/>
<rect x="634.00" y="262.00" width="1.00" height="28.00" fill="#ffffff" fill-opacity="0.7" shape-rendering="crispEdges"/>
<rect x="610.00" y="298.00" width="1.00" height="8.00" fill="#7dbb4a" fill-opacity="0.7" shape-rendering="crispEdges"/>
<rect x="632.00" y="289.00" width="3.00" height="2.60" fill="#7dbb4a" shape-rendering="crispEdges"/>
<rect x="548.00" y="286.00" width="1.00" height="3.00" fill="#7dbb4a" fill-opacity="0.7" shape-rendering="crispEdges"/>
<line x1="241.5" y1="212.6" x2="241.5" y2="324.8" stroke="#1c2233" stroke-width="1.2"/>
<line x1="241" y1="324.5" x2="660" y2="324.5" stroke="#1a1a1a" stroke-width="0.8"/>
<line x1="238.6" y1="324.5" x2="241" y2="324.5" stroke="#1a1a1a" stroke-width="0.9"/>
<text x="237.6" y="326.85" font-size="6.6" text-anchor="end" fill="#1a1718" stroke="#1a1718" stroke-width="0.18">0</text>
<line x1="238.6" y1="302.5" x2="241" y2="302.5" stroke="#1a1a1a" stroke-width="0.9"/>
<text x="237.6" y="304.53000000000003" font-size="6.6" text-anchor="end" fill="#1a1718" stroke="#1a1718" stroke-width="0.18">20</text>
<line x1="238.6" y1="279.5" x2="241" y2="279.5" stroke="#1a1a1a" stroke-width="0.9"/>
<text x="237.6" y="282.21000000000004" font-size="6.6" text-anchor="end" fill="#1a1718" stroke="#1a1718" stroke-width="0.18">40</text>
<line x1="238.6" y1="257.5" x2="241" y2="257.5" stroke="#1a1a1a" stroke-width="0.9"/>
<text x="237.6" y="259.89000000000004" font-size="6.6" text-anchor="end" fill="#1a1718" stroke="#1a1718" stroke-width="0.18">60</text>
<line x1="238.6" y1="235.5" x2="241" y2="235.5" stroke="#1a1a1a" stroke-width="0.9"/>
<text x="237.6" y="237.57" font-size="6.6" text-anchor="end" fill="#1a1718" stroke="#1a1718" stroke-width="0.18">80</text>
<line x1="238.6" y1="212.5" x2="241" y2="212.5" stroke="#1a1a1a" stroke-width="0.9"/>
<text x="237.6" y="215.25" font-size="6.6" text-anchor="end" fill="#1a1718" stroke="#1a1718" stroke-width="0.18">100</text>
<line x1="269.5" y1="324.8" x2="269.5" y2="326.6" stroke="#1a1a1a" stroke-width="0.9"/>
<text x="269.4" y="333.0" font-size="6.6" text-anchor="middle" fill="#1a1718" stroke="#1a1718" stroke-width="0.18">10K</text>
<line x1="294.5" y1="324.8" x2="294.5" y2="326.6" stroke="#1a1a1a" stroke-width="0.9"/>
<text x="294.7" y="333.0" font-size="6.6" text-anchor="middle" fill="#1a1718" stroke="#1a1718" stroke-width="0.18">20k</text>
<line x1="324.5" y1="324.8" x2="324.5" y2="326.6" stroke="#1a1a1a" stroke-width="0.9"/>
<text x="324.4" y="333.0" font-size="6.6" text-anchor="middle" fill="#1a1718" stroke="#1a1718" stroke-width="0.18">30k</text>
<line x1="353.5" y1="324.8" x2="353.5" y2="326.6" stroke="#1a1a1a" stroke-width="0.9"/>
<text x="353.0" y="333.0" font-size="6.6" text-anchor="middle" fill="#1a1718" stroke="#1a1718" stroke-width="0.18">40k</text>
<line x1="382.5" y1="324.8" x2="382.5" y2="326.6" stroke="#1a1a1a" stroke-width="0.9"/>
<text x="382.3" y="333.0" font-size="6.6" text-anchor="middle" fill="#1a1718" stroke="#1a1718" stroke-width="0.18">50k</text>
<line x1="409.5" y1="324.8" x2="409.5" y2="326.6" stroke="#1a1a1a" stroke-width="0.9"/>
<text x="409.6" y="333.0" font-size="6.6" text-anchor="middle" fill="#1a1718" stroke="#1a1718" stroke-width="0.18">60k</text>
<line x1="439.5" y1="324.8" x2="439.5" y2="326.6" stroke="#1a1a1a" stroke-width="0.9"/>
<text x="439.4" y="333.0" font-size="6.6" text-anchor="middle" fill="#1a1718" stroke="#1a1718" stroke-width="0.18">70k</text>
<line x1="467.5" y1="324.8" x2="467.5" y2="326.6" stroke="#1a1a1a" stroke-width="0.9"/>
<text x="467.1" y="333.0" font-size="6.6" text-anchor="middle" fill="#1a1718" stroke="#1a1718" stroke-width="0.18">80k</text>
<line x1="494.5" y1="324.8" x2="494.5" y2="326.6" stroke="#1a1a1a" stroke-width="0.9"/>
<text x="494.4" y="333.0" font-size="6.6" text-anchor="middle" fill="#1a1718" stroke="#1a1718" stroke-width="0.18">90k</text>
<line x1="525.5" y1="324.8" x2="525.5" y2="326.6" stroke="#1a1a1a" stroke-width="0.9"/>
<text x="525.3" y="333.0" font-size="6.6" text-anchor="middle" fill="#1a1718" stroke="#1a1718" stroke-width="0.18">100k</text>
<line x1="552.5" y1="324.8" x2="552.5" y2="326.6" stroke="#1a1a1a" stroke-width="0.9"/>
<text x="552.9" y="333.0" font-size="6.6" text-anchor="middle" fill="#1a1718" stroke="#1a1718" stroke-width="0.18">110k</text>
<line x1="578.5" y1="324.8" x2="578.5" y2="326.6" stroke="#1a1a1a" stroke-width="0.9"/>
<text x="578.9" y="333.0" font-size="6.6" text-anchor="middle" fill="#1a1718" stroke="#1a1718" stroke-width="0.18">120k</text>
<line x1="608.5" y1="324.8" x2="608.5" y2="326.6" stroke="#1a1a1a" stroke-width="0.9"/>
<text x="608.8" y="333.0" font-size="6.6" text-anchor="middle" fill="#1a1718" stroke="#1a1718" stroke-width="0.18">130k</text>
<line x1="633.5" y1="324.8" x2="633.5" y2="326.6" stroke="#1a1a1a" stroke-width="0.9"/>
<text x="633.1" y="333.0" font-size="6.6" text-anchor="middle" fill="#1a1718" stroke="#1a1718" stroke-width="0.18">140k</text>
<text x="429.1" y="340.4" font-size="6.7" fill="#1a1718" stroke="#1a1718" stroke-width="0.18">position (bp)</text>
<text transform="translate(225.3,297) rotate(-90)" font-size="6.6" fill="#1a1718" stroke="#1a1718" stroke-width="0.15">% of permuted tree</text>
<line x1="241.4" y1="241.1" x2="663.5" y2="241.1" stroke="#111" stroke-width="1.7" stroke-dasharray="6.6 6.6" stroke-dashoffset="3.4"/>
<line x1="524.7" y1="209.6" x2="668.2" y2="209.6" stroke="#2a2222" stroke-width="1.5" stroke-dasharray="6 5" stroke-dashoffset="3.2"/>
<line x1="524.7" y1="334.1" x2="668.2" y2="334.1" stroke="#2a2222" stroke-width="1.5" stroke-dasharray="6 5" stroke-dashoffset="3.2"/>
<line x1="524.7" y1="209.6" x2="524.7" y2="334.1" stroke="#2a2222" stroke-width="1.5" stroke-dasharray="6 5" stroke-dashoffset="0"/>
<line x1="668.2" y1="209.6" x2="668.2" y2="334.1" stroke="#2a2222" stroke-width="1.5" stroke-dasharray="6 5" stroke-dashoffset="0"/>
<text x="219.6" y="194.6" font-size="12.3" font-weight="bold" fill="#1a1718" stroke="#1a1718" stroke-width="0.18">f</text>
<text x="239.0" y="193.7" font-size="9.35" fill="#1a1718" stroke="#1a1718" stroke-width="0.18">Query: FJ/porcupine/2018</text>
<path d="M285.8,211.8 V205.3 H291.8 V211.8" fill="none" stroke="#dc0a55" stroke-width="1.1"/>
<line x1="288.5" y1="202.3" x2="288.5" y2="205.3" stroke="#dc0a55" stroke-width="1.1"/>
<circle cx="288.8" cy="202.3" r="2.3" fill="#dc0a55"/>
<text x="293.6" y="205.48" font-size="6.6" fill="#1a1718" stroke="#1a1718" stroke-width="0.18">gB (16,701-18,524)</text>
<path d="M394.6,211.8 V205.3 H400.6 V211.8" fill="none" stroke="#dc0a55" stroke-width="1.1"/>
<line x1="397.5" y1="202.3" x2="397.5" y2="205.3" stroke="#dc0a55" stroke-width="1.1"/>
<circle cx="397.6" cy="202.3" r="2.3" fill="#dc0a55"/>
<text x="402.9" y="205.48" font-size="6.6" fill="#1a1718" stroke="#1a1718" stroke-width="0.18">gC (54,743-56,185)</text>
<path d="M587.4,211.8 V205.3 H593.4 V211.8" fill="none" stroke="#dc0a55" stroke-width="1.1"/>
<line x1="590.5" y1="202.3" x2="590.5" y2="205.3" stroke="#dc0a55" stroke-width="1.1"/>
<circle cx="590.4" cy="202.3" r="2.3" fill="#dc0a55"/>
<path d="M598.3,211.8 V205.3 H604.3 V211.8" fill="none" stroke="#dc0a55" stroke-width="1.1"/>
<line x1="601.5" y1="202.3" x2="601.5" y2="205.3" stroke="#dc0a55" stroke-width="1.1"/>
<circle cx="601.3" cy="202.3" r="2.3" fill="#dc0a55"/>
<text x="606.9" y="205.48" font-size="6.6" fill="#1a1718" stroke="#1a1718" stroke-width="0.18">gE (126,118-127,857)</text>
<text x="518" y="205.48" font-size="6.6" fill="#1a1718" stroke="#1a1718" stroke-width="0.18">gD (123,679-124,887)</text>
<line x1="596.4" y1="337.3" x2="243.5" y2="357" stroke="#a8a2a0" stroke-width="1.5" stroke-dasharray="8.7 8.7" stroke-dashoffset="3"/>
<line x1="606.1" y1="338.3" x2="664.5" y2="357" stroke="#a8a2a0" stroke-width="1.5" stroke-dasharray="8.7 8.7"/>
<path d="M598.3,338.3 V334.1 M606.1,334.1 V338.3" fill="none" stroke="#4a4444" stroke-width="1.2"/>
<line x1="598.5" y1="325" x2="598.5" y2="328.3" stroke="#a8a2a0" stroke-width="1.0"/>
<line x1="240.9" y1="365.2" x2="240.9" y2="472.2" stroke="#1a1a1a" stroke-width="1.6"/>
<line x1="240.6" y1="471.5" x2="664.8" y2="471.5" stroke="#1a1a1a" stroke-width="1.2"/>
<line x1="238.8" y1="470.5" x2="241.2" y2="470.5" stroke="#1a1a1a" stroke-width="0.9"/>
<text x="238.0" y="472.0" font-size="6.6" text-anchor="end" fill="#1a1718" stroke="#1a1718" stroke-width="0.18">0</text>
<line x1="238.8" y1="449.5" x2="241.2" y2="449.5" stroke="#1a1a1a" stroke-width="0.9"/>
<text x="238.0" y="451.2" font-size="6.6" text-anchor="end" fill="#1a1718" stroke="#1a1718" stroke-width="0.18">20</text>
<line x1="238.8" y1="428.5" x2="241.2" y2="428.5" stroke="#1a1a1a" stroke-width="0.9"/>
<text x="238.0" y="430.4" font-size="6.6" text-anchor="end" fill="#1a1718" stroke="#1a1718" stroke-width="0.18">40</text>
<line x1="238.8" y1="407.5" x2="241.2" y2="407.5" stroke="#1a1a1a" stroke-width="0.9"/>
<text x="238.0" y="409.59999999999997" font-size="6.6" text-anchor="end" fill="#1a1718" stroke="#1a1718" stroke-width="0.18">60</text>
<line x1="238.8" y1="387.5" x2="241.2" y2="387.5" stroke="#1a1a1a" stroke-width="0.9"/>
<text x="238.0" y="388.8" font-size="6.6" text-anchor="end" fill="#1a1718" stroke="#1a1718" stroke-width="0.18">80</text>
<line x1="238.8" y1="366.5" x2="241.2" y2="366.5" stroke="#1a1a1a" stroke-width="0.9"/>
<text x="238.0" y="368.0" font-size="6.6" text-anchor="end" fill="#1a1718" stroke="#1a1718" stroke-width="0.18">100</text>
<line x1="241.5" y1="471.7" x2="241.5" y2="473.6" stroke="#1a1a1a" stroke-width="0.9"/>
<line x1="387.5" y1="471.7" x2="387.5" y2="473.6" stroke="#1a1a1a" stroke-width="0.9"/>
<line x1="520.5" y1="471.7" x2="520.5" y2="473.6" stroke="#1a1a1a" stroke-width="0.9"/>
<line x1="655.5" y1="471.7" x2="655.5" y2="473.6" stroke="#1a1a1a" stroke-width="0.9"/>
<text x="241.1" y="480.0" font-size="6.4" fill="#1a1718" stroke="#1a1718" stroke-width="0.18">125k</text>
<text x="387.2" y="480.0" font-size="6.4" text-anchor="middle" fill="#1a1718" stroke="#1a1718" stroke-width="0.18">126k</text>
<text x="520.3" y="480.0" font-size="6.4" text-anchor="middle" fill="#1a1718" stroke="#1a1718" stroke-width="0.18">127k</text>
<text x="656.2" y="480.0" font-size="6.4" text-anchor="middle" fill="#1a1718" stroke="#1a1718" stroke-width="0.18">128k</text>
<text transform="translate(224.6,434.4) rotate(-90)" font-size="6.6" fill="#1a1718" stroke="#1a1718" stroke-width="0.15">% of permuted tree</text>
<line x1="241.4" y1="393.8" x2="664.8" y2="393.8" stroke="#2a2a2a" stroke-width="1.5" stroke-dasharray="6.6 6.6" stroke-dashoffset="3.4"/>
<polyline points="241.2,462 247.7,460.7 254.8,464.7 262.1,456.3 269.4,470.4 376.2,470.4 384.2,467.4 391.2,458.2 399.3,425.8 406.2,420.5 413.1,454.7 420,451.2 427,457 433.9,466.2 441.8,456.3 449.1,460.2 456.7,461.1 463.4,436.3 471,426.8 478.7,434.4 485.3,431.5 493,418.2 499.7,424.3 507.3,420.1 514,431.5 521.7,435.7 528.4,434.4 535.6,431.9 543.2,441.5 550.3,438.8 557,432.5 565,435.3 572.3,436.9 578.9,443 586,460.5 592.9,459.8 600,470.4 607.6,460.9 614.6,470.4 622.1,465.4 629.7,366.3 636.4,372.1 643.2,368.1 650.2,373.1 657.8,470.4 664.8,439.1" fill="none" stroke="#7dbb4a" stroke-width="2.4" stroke-linejoin="round" stroke-linecap="butt"/>
<polyline points="241.2,456.8 247.7,463.4 254.8,466 262.1,456.8 269.4,470.4 384.2,470.4 391.2,468.1 398.1,467.4 406.2,468.5 413.1,402 420,401.1 427.4,389.6 441.8,459.2 449.1,458.2 456.7,460.5 463.4,439.5 471,440.7 478.7,436.3 485.3,437.6 493,469.3 499.7,467.8 507.3,455.4 514,458.2 521.7,432.5 528.4,436.9 535.6,434.4 543.2,437.3 550.3,435.3 557,433 565,432.5 572.3,441.5 578.9,440.7 586,425.8 592.9,422.9 600,385.1 607.6,388.1 614.6,384.6 622.1,392.1 629.7,470.4 636.4,470.4 643.2,470.4 650.2,466.7 657.8,424 664.8,434.8" fill="none" stroke="#1a5a9e" stroke-width="2.4" stroke-linejoin="round" stroke-linecap="butt"/>
<polyline points="241.2,388.4 254.8,375.4 262.4,394.5 269.4,366 369.2,365.8 376.2,366.9 384.2,372.7 391.2,381.9 394.6,393.5 399.3,414.3 406.2,418.9 413.1,450 420,454.7 427.2,459.3 441.8,393.4 449.1,388 456.7,386.1 463.4,434.4 471,440.7 478.7,435.3 485.3,437.6 493,420.1 499.7,415.3 507.3,432.5 514,416.6 521.7,439.5 528.4,436.9 535.6,442 543.2,429.2 550.3,434.4 557,442.6 565,437.3 572.3,430.6 578.9,423.5 586,421 592.9,425.8 600,451.6 607.6,457.9 614.6,452.9 622.1,449.9 629.7,470.4 636.4,467.4 643.2,470 650.2,470 657.8,412.2 664.8,434.8" fill="none" stroke="#dd6060" stroke-width="2.4" stroke-linejoin="round" stroke-linecap="butt"/>
<rect x="476.8" y="353.6" width="104.4" height="31.2" fill="#fff" stroke="#1a1a1a" stroke-width="1.1"/>
<line x1="481.8" y1="360.7" x2="495.3" y2="360.7" stroke="#dd6060" stroke-width="2.1"/>
<text x="498.5" y="363.21" font-size="6.7" fill="#1a1718" stroke="#1a1718" stroke-width="0.18">JF797218.1 (genetype I)</text>
<line x1="481.8" y1="369.5" x2="495.3" y2="369.5" stroke="#7dbb4a" stroke-width="2.1"/>
<text x="498.5" y="372.01" font-size="6.7" fill="#1a1718" stroke="#1a1718" stroke-width="0.18">KU552118.1 (genetype II)</text>
<line x1="481.8" y1="378.1" x2="495.3" y2="378.1" stroke="#1a5a9e" stroke-width="2.1"/>
<text x="498.5" y="380.61" font-size="6.7" fill="#1a1718" stroke="#1a1718" stroke-width="0.18">MT949536.1 (genetype II)</text>
<path d="M398.7,481 V487.8" fill="none" stroke="#2a2222" stroke-width="1.3"/>
<line x1="398.7" y1="487.8" x2="654.8" y2="487.8" stroke="#2a2222" stroke-width="1.3" stroke-dasharray="5.1 4.6"/>
<line x1="654.5" y1="481" x2="654.5" y2="487.8" stroke="#2a2222" stroke-width="1.3"/>
<text x="494.6" y="496.98" font-size="6.6" fill="#1a1718" stroke="#1a1718" stroke-width="0.18">gE (126,118-127,857)</text>
</svg></body></html>
